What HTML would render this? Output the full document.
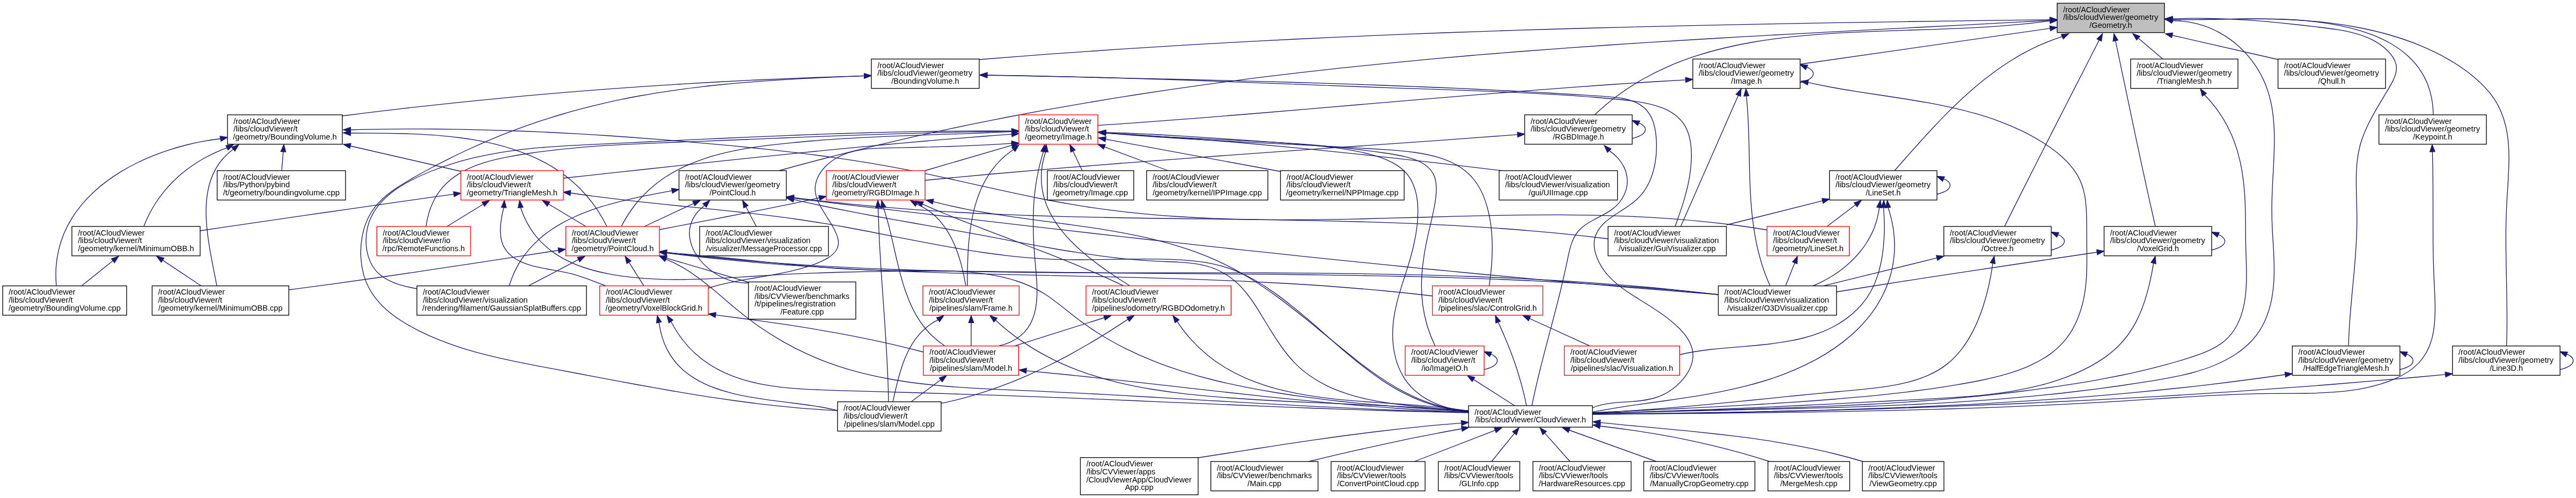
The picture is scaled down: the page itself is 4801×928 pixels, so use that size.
<!DOCTYPE html><html><head><meta charset="utf-8"><title>Geometry.h include graph</title>
<style>html,body{margin:0;padding:0;background:#fff}svg{display:block;will-change:transform}text{font-family:"Liberation Sans",sans-serif;font-size:13.8px;fill:#000}</style></head><body>
<svg width="4801" height="928" viewBox="0 0 4801 928">
<rect width="4801" height="928" fill="#fff"/>
<g fill="none" stroke="#191970" stroke-width="1.33">
<path d="M410.9,258.5C400.7,259.7 390.3,261.3 379.8,263.2C369.2,265.1 358.6,267.4 348,270C337.4,272.7 326.8,275.7 316.2,279.1C305.6,282.5 295.2,286.2 284.8,290.4C274.5,294.6 264.3,299.1 254.4,304C244.5,308.9 234.8,314.2 225.4,319.9C216,325.6 207,331.6 198.3,338.1C189.7,344.6 181.5,351.4 173.7,358.7C166,365.9 158.7,373.6 152,381.6C145.3,389.7 139.2,398.1 133.8,406.9C128.3,415.8 123.5,425 119.4,434.7C115.4,444.3 112,454.4 109.5,464.9C107,475.4 105.3,486.2 104.5,497.5C103.8,508.8 103.9,520.6 105,532.7"/>
<path d="M423.1,275.4C415.3,278.2 407.7,281.3 400.2,284.8C392.8,288.2 385.5,292 378.4,296C371.3,300.1 364.4,304.4 357.7,309C351.1,313.7 344.6,318.6 338.4,323.8C332.2,329 326.3,334.5 320.6,340.3C315,346 309.6,352.1 304.5,358.4C299.5,364.7 294.7,371.2 290.3,378C285.8,384.9 281.8,391.9 278,399.3C274.3,406.6 271,414.2 268,422"/>
<path d="M434.8,278C427.5,283.3 421.3,289.1 415.8,295.3C410.3,301.4 405.7,308 401.9,314.9C398,321.8 394.9,329 392.4,336.5C389.9,344 388,351.8 386.7,359.7C385.4,367.7 384.6,375.8 384.3,384.1C383.9,392.4 384,400.8 384.5,409.3C384.9,417.8 385.7,426.3 386.7,434.8C387.8,443.4 389,451.9 390.4,460.4C391.8,468.8 393.3,477.2 394.9,485.4C396.5,493.7 398.1,501.8 399.6,509.7C401.2,517.6 402.7,525.3 404,532.7"/>
<path d="M527.9,282.8L525,318"/>
<path d="M210.6,485.8L152,532.7"/>
<path d="M303.1,484.9L375,532.7"/>
<path d="M845.8,361.9C819.5,365.5 793.3,369.2 767,372.9C740.7,376.6 714.4,380.4 688.2,384.1C661.9,387.9 635.6,391.7 609.3,395.5C583.1,399.3 556.8,403.1 530.6,406.9C504.3,410.7 478,414.6 451.8,418.4C425.5,422.3 399.3,426.1 373,430"/>
<path d="M1040.8,466.5C1013,470.7 985.1,475 957.2,479.3C929.3,483.5 901.4,487.8 873.5,492.1C845.6,496.3 817.7,500.5 789.8,504.7C761.9,508.9 734,513 706,517C678.1,521.1 650.2,525 622.2,528.9C594.3,532.7 566.3,536.4 538.3,540"/>
<path d="M653,272L862,320"/>
<path d="M1610.7,141.4C1587.5,142.1 1564.3,142.8 1541,143.6C1517.8,144.5 1494.6,145.3 1471.4,146.3C1448.1,147.3 1424.9,148.3 1401.7,149.4C1378.5,150.6 1355.3,151.8 1332.1,153C1308.9,154.3 1285.7,155.7 1262.5,157.1C1239.3,158.5 1216.1,160 1193,161.6C1169.8,163.2 1146.6,164.9 1123.4,166.7C1100.3,168.4 1077.1,170.3 1053.9,172.2C1030.8,174.1 1007.6,176.1 984.5,178.2C961.3,180.3 938.2,182.5 915.1,184.8C892,187 868.8,189.4 845.7,191.8C822.6,194.2 799.5,196.7 776.4,199.3C753.3,201.9 730.3,204.6 707.2,207.4C684.1,210.2 661.1,213 638,216"/>
<path d="M900.7,380.5L833,422"/>
<path d="M1022.4,380.3L1092,422"/>
<path d="M653.3,248C663.9,248 674.7,248 685.6,248.1C696.6,248.1 707.7,248.2 718.9,248.3C730.1,248.5 741.4,248.7 752.8,249C764.2,249.4 775.7,249.8 787.2,250.4C798.7,251.1 810.2,251.8 821.6,252.8C833.1,253.8 844.6,255 855.9,256.5C867.3,258 878.6,259.7 889.8,261.7C901,263.7 912.1,266 923,268.7C934,271.4 944.7,274.4 955.3,277.8C965.8,281.2 976.2,285 986.3,289.2C996.4,293.4 1006.2,298.1 1015.8,303.2C1025.3,308.4 1034.6,314 1043.5,320.1C1052.4,326.3 1060.9,332.9 1069.1,340.2C1077.3,347.4 1085.1,355.2 1092.4,363.7C1099.8,372.1 1106.7,381.1 1113.2,390.9C1119.6,400.6 1125.6,410.9 1131,422"/>
<path d="M1292.9,379.1L1201,422"/>
<path d="M1885.7,245.4C1872.1,246.1 1858.5,246.7 1844.9,247.2C1831.3,247.8 1817.7,248.3 1804,248.8C1790.3,249.3 1776.7,249.8 1763,250.2C1749.2,250.7 1735.5,251.2 1721.8,251.6C1708,252.1 1694.3,252.6 1680.5,253.1C1666.7,253.7 1652.9,254.2 1639.1,254.9C1625.3,255.5 1611.5,256.2 1597.6,256.9C1583.8,257.7 1569.9,258.5 1556.1,259.4C1542.2,260.3 1528.3,261.4 1514.5,262.5C1500.6,263.6 1486.7,264.9 1472.8,266.3C1458.9,267.6 1445,269.2 1431.1,270.9C1417.3,272.6 1403.5,274.6 1389.8,276.9C1376.2,279.3 1362.7,282 1349.5,285.2C1336.2,288.3 1323.3,292 1310.6,296.3C1298,300.6 1285.7,305.5 1273.8,311.1C1261.9,316.7 1250.5,323.1 1239.6,330.3C1228.7,337.5 1218.3,345.6 1208.5,354.7C1198.7,363.8 1189.6,373.8 1181.1,385C1172.7,396.2 1164.9,408.5 1158,422"/>
<path d="M1527,368.7C1510.5,372.3 1494,375.8 1477.5,379.3C1460.9,382.7 1444.4,386.1 1427.8,389.4C1411.3,392.7 1394.7,396 1378.2,399.2C1361.6,402.4 1345,405.6 1328.4,408.8C1311.9,412 1295.3,415.2 1278.7,418.4C1262.1,421.6 1245.6,424.8 1229,428"/>
<path d="M1252.4,355.3C1244.2,356.8 1235.7,358.4 1227.2,360.1C1218.7,361.7 1210,363.4 1201.3,365.2C1192.6,366.9 1183.8,368.8 1175,370.8C1166.2,372.8 1157.4,375 1148.7,377.3C1139.9,379.6 1131.2,382 1122.5,384.7C1113.9,387.4 1105.3,390.2 1096.9,393.4C1088.5,396.5 1080.2,399.8 1072.2,403.5C1064.1,407.1 1056.2,411 1048.6,415.2C1041,419.4 1033.6,424 1026.5,428.8C1019.4,433.7 1012.6,438.9 1006.2,444.5C999.7,450.2 993.6,456.2 987.9,462.6C982.2,469 977,475.8 972.1,483.1C967.3,490.4 962.9,498.2 959,506.4C955.2,514.7 951.8,523.4 949,532.7"/>
<path d="M1078.2,483.7L985,532.7"/>
<path d="M1885.7,244.2C1871.7,244.1 1857.7,244 1843.7,244C1829.7,244 1815.7,244.1 1801.8,244.1C1787.8,244.2 1773.8,244.3 1759.8,244.5C1745.9,244.6 1731.9,244.8 1718,245.1C1704,245.3 1690,245.6 1676.1,245.9C1662.1,246.2 1648.2,246.5 1634.2,246.9C1620.3,247.3 1606.3,247.7 1592.4,248.1C1578.4,248.5 1564.5,249 1550.5,249.4C1536.6,249.9 1522.7,250.4 1508.7,250.9C1494.8,251.5 1480.8,252 1466.9,252.6C1452.9,253.1 1439,253.7 1425.1,254.3C1411.1,254.9 1397.2,255.5 1383.2,256.1C1369.3,256.7 1355.3,257.3 1341.4,258C1327.4,258.6 1313.5,259.3 1299.5,259.9C1285.6,260.6 1271.6,261.2 1257.7,261.9C1243.7,262.6 1229.7,263.2 1215.8,263.9C1201.8,264.5 1187.8,265.2 1173.9,265.9C1159.9,266.5 1145.9,267.2 1131.9,267.8C1117.9,268.5 1103.9,269.1 1090,269.8C1076,270.5 1062,271.2 1048,272.1C1034.1,273 1020.1,274 1006.2,275.2C992.3,276.5 978.5,277.9 964.7,279.6C950.9,281.4 937.1,283.4 923.4,285.8C909.7,288.2 896.1,291 882.5,294.2C869,297.4 855.5,301.1 842.2,305.3C828.8,309.5 815.5,314.2 802.4,319.5C789.2,324.8 776.1,330.8 763.5,337.5C751,344.1 739.1,351.6 728.5,360.1C717.9,368.6 708.5,378 701,388.7C693.5,399.3 687.9,411.1 684.9,424.4C681.8,437.6 681.3,452.3 683.7,466.4C686.1,480.4 691.5,493.7 700.3,504.1C709.1,514.5 721.4,521.8 734.9,527.1C748.5,532.4 763.3,535.6 777,538"/>
<path d="M1885.7,244.9C1870.7,245 1855.7,245.2 1840.7,245.4C1825.7,245.6 1810.7,245.9 1795.8,246.1C1780.9,246.4 1765.9,246.8 1751,247.1C1736.1,247.5 1721.3,247.9 1706.4,248.3C1691.5,248.7 1676.7,249.1 1661.8,249.6C1647,250.1 1632.2,250.6 1617.3,251.1C1602.5,251.6 1587.7,252.1 1572.9,252.7C1558.1,253.2 1543.3,253.8 1528.4,254.3C1513.6,254.9 1498.8,255.5 1484,256.1C1469.2,256.7 1454.3,257.3 1439.5,257.9C1424.7,258.5 1409.8,259.1 1395,259.7C1380.1,260.3 1365.2,260.9 1350.3,261.5C1335.4,262.1 1320.5,262.7 1305.6,263.3C1290.7,263.8 1275.7,264.4 1260.7,265C1245.8,265.6 1230.8,266.1 1215.8,266.8C1200.8,267.4 1185.8,268.1 1170.8,268.8C1155.7,269.6 1140.7,270.5 1125.7,271.4C1110.7,272.4 1095.7,273.5 1080.8,274.8C1065.8,276.1 1050.8,277.6 1035.9,279.3C1021,281 1006.1,282.8 991.2,285C976.4,287.1 961.5,289.5 946.8,292.3C932.2,295.1 917.7,298.4 903.9,302.6C890.2,306.8 877,311.9 864.9,318.3C852.8,324.7 841.7,332.4 832,341.8C822.3,351.2 814,362.3 807.6,375.5C801.1,388.8 796.5,404.1 794,422"/>
<path d="M1172.1,488.7L1200,532.7"/>
<path d="M939,386.8C937.1,393.7 935.5,400.9 934.4,408.1C933.2,415.2 932.5,422.4 932.5,429.3C932.5,436.1 933.2,442.7 934.8,448.8C936.4,454.9 938.9,460.4 942.3,465.3C945.7,470.2 949.9,474.5 954.8,478.3C959.6,482 965.1,485.2 971,487.9C976.9,490.5 983.2,492.7 989.8,494.6C996.4,496.5 1003.3,498 1010.3,499.4C1017.3,500.8 1024.4,502.1 1031.6,503.3C1038.7,504.6 1045.8,505.9 1052.7,507.3C1059.6,508.8 1066.4,510.4 1072.8,512.3C1079.3,514.3 1085.6,516.4 1091.8,518.7C1098,520.9 1104.2,523.3 1110.4,525.7C1116.7,528.1 1123,530.4 1129.5,532.7"/>
<path d="M1313.3,382.8C1308.1,386.8 1303.7,390.9 1300,395.3C1296.3,399.6 1293.4,404.1 1291.1,408.6C1288.8,413.2 1287.2,417.8 1286.2,422.5C1285.2,427.2 1284.8,432 1285,436.7C1285.2,441.5 1285.9,446.2 1287.1,450.9C1288.3,455.5 1290,460.2 1292.1,464.7C1294.3,469.2 1296.8,473.6 1299.8,477.8C1302.7,482.1 1306,486.2 1309.6,490.1C1313.2,493.9 1317.1,497.6 1321.3,501C1325.4,504.5 1329.9,507.6 1334.5,510.5C1339.1,513.4 1343.9,515.9 1348.8,518.1C1353.7,520.3 1358.8,522.2 1363.9,523.6C1369,525.1 1374.2,526.1 1379.4,526.7C1384.6,527.3 1389.8,527.4 1395,527"/>
<path d="M1241.8,480.8L1395,526"/>
<path d="M1390.2,385.3L1409.5,422"/>
<path d="M1885.7,250.1C1868.3,251.3 1850.8,252.6 1833.4,254C1815.9,255.3 1798.5,256.7 1781.1,258.1C1763.6,259.6 1746.2,261 1728.8,262.5C1711.3,264 1693.9,265.6 1676.5,267.1C1659.1,268.7 1641.6,270.3 1624.2,271.9C1606.8,273.6 1589.4,275.2 1572,276.9C1554.6,278.6 1537.1,280.3 1519.7,282C1502.3,283.8 1484.9,285.5 1467.5,287.3C1450.1,289.1 1432.7,290.9 1415.3,292.7C1397.9,294.5 1380.5,296.3 1363.1,298.2C1345.7,300 1328.3,301.9 1310.9,303.7C1293.5,305.6 1276.1,307.5 1258.7,309.3C1241.3,311.2 1223.9,313.1 1206.5,315C1189.2,316.9 1171.8,318.8 1154.4,320.7C1137,322.6 1119.6,324.5 1102.2,326.3C1084.8,328.2 1067.4,330.1 1050,332"/>
<path d="M1886.2,270.7L1724,318"/>
<path d="M1610.7,141.4C1598.2,141.9 1585.6,142.4 1573.1,142.9C1560.5,143.4 1547.9,144 1535.3,144.6C1522.7,145.1 1510.1,145.8 1497.5,146.4C1484.9,147.1 1472.3,147.8 1459.6,148.6C1447,149.4 1434.4,150.2 1421.7,151.1C1409.1,152 1396.5,153 1383.8,154.1C1371.2,155.1 1358.6,156.3 1346,157.5C1333.4,158.8 1320.8,160.1 1308.2,161.6C1295.6,163.1 1283.1,164.6 1270.5,166.3C1258,168 1245.5,169.8 1233,171.8C1220.5,173.7 1208.1,175.8 1195.6,178C1183.2,180.3 1170.8,182.6 1158.5,185.2C1146.2,187.7 1133.9,190.4 1121.6,193.3C1109.3,196.1 1097.1,199.2 1085,202.4C1072.8,205.6 1060.7,208.9 1048.6,212.5C1036.6,216 1024.5,219.8 1012.6,223.7C1000.6,227.6 988.7,231.7 976.8,235.9C965,240.2 953.2,244.6 941.4,249.2C929.7,253.8 918,258.6 906.4,263.6C894.7,268.6 883.2,273.7 871.6,279C860.1,284.4 848.7,289.9 837.3,295.6C825.9,301.2 814.6,307.1 803.4,313C792.2,319 781.1,325.2 770.1,331.4C759.1,337.7 748.1,344.1 737.8,351.1C727.5,358.1 717.8,365.6 709.3,374.2C700.7,382.7 693.3,392.3 687.6,403.3C681.8,414.3 677.7,426.6 675.2,439.6C672.7,452.5 671.8,466 672.5,479.2C673.2,492.4 675.6,505.4 679.5,517.4C683.5,529.4 689,540.3 695.9,550.1C702.8,560 711,568.8 720,576.9C729.1,584.9 739.1,592.2 749.5,598.8C760,605.5 770.9,611.5 782,617.1C793.2,622.6 804.5,627.7 816.1,632.4C827.6,637.1 839.4,641.4 851.3,645.3C863.2,649.3 875.3,652.9 887.4,656.3C899.6,659.6 911.9,662.7 924.3,665.6C936.7,668.5 949.2,671.2 961.7,673.8C974.2,676.4 986.7,678.9 999.3,681.3C1011.8,683.7 1024.4,686 1036.9,688.4C1049.4,690.7 1061.9,693.1 1074.4,695.5C1086.9,697.9 1099.3,700.2 1111.7,702.6C1124.2,705 1136.6,707.3 1149,709.6C1161.4,712 1173.8,714.3 1186.1,716.5C1198.5,718.8 1210.9,721 1223.3,723.2C1235.6,725.4 1248,727.6 1260.4,729.7C1272.7,731.8 1285.1,733.9 1297.5,735.8C1309.9,737.8 1322.3,739.8 1334.7,741.6C1347.1,743.5 1359.5,745.3 1372,747C1384.4,748.7 1396.9,750.3 1409.4,751.8C1421.9,753.3 1434.4,754.8 1447,756.1C1459.5,757.4 1472.1,758.6 1484.7,759.8C1497.4,760.9 1510,761.9 1522.7,762.7C1535.4,763.6 1548.2,764.4 1561,765"/>
<path d="M653.3,242C674.9,241.4 696.5,240.9 718,240.7C739.6,240.4 761.2,240.3 782.8,240.3C804.4,240.4 825.9,240.6 847.5,240.9C869.1,241.2 890.7,241.7 912.3,242.3C933.8,242.9 955.4,243.7 977,244.5C998.6,245.4 1020.1,246.4 1041.7,247.5C1063.2,248.6 1084.8,249.8 1106.3,251.2C1127.9,252.5 1149.4,253.9 1171,255.5C1192.5,257 1214,258.6 1235.6,260.4C1257.1,262.1 1278.6,263.9 1300.1,265.8C1321.6,267.7 1343.1,269.7 1364.6,271.7C1386,273.8 1407.5,275.9 1428.9,278.2C1450.4,280.5 1471.8,283 1493.2,285.6C1514.6,288.2 1536,291 1557.3,294.1C1578.7,297.1 1600,300.4 1621.3,303.9C1642.6,307.5 1663.8,311.3 1685.1,315.4C1706.3,319.6 1727.4,324 1748.6,328.6C1769.8,333.2 1790.9,337.9 1812,342.6C1833.1,347.4 1854.3,352.1 1875.4,356.7C1896.5,361.3 1917.6,365.8 1938.8,370C1960,374.3 1981.1,378.2 2002.4,381.7C2023.6,385.3 2044.8,388.4 2066.1,391.1C2087.4,393.9 2108.7,396.3 2130.1,398.3C2151.5,400.4 2172.8,402.1 2194.3,403.5C2215.7,404.9 2237.1,406.1 2258.6,406.9C2280.1,407.8 2301.5,408.5 2323.1,408.9C2344.6,409.3 2366.1,409.5 2387.7,409.6C2409.2,409.6 2430.8,409.5 2452.4,409.3C2473.9,409.1 2495.5,408.7 2517.1,408.3C2538.7,407.8 2560.4,407.3 2582,406.7C2603.6,406.2 2625.2,405.6 2646.9,405C2668.5,404.4 2690.1,403.8 2711.8,403.2C2733.4,402.6 2755,402.1 2776.7,401.7C2798.3,401.2 2819.9,400.9 2841.5,400.7C2863.2,400.4 2884.8,400.3 2906.4,400.4C2928,400.5 2949.6,400.7 2971.1,401.1C2992.7,401.6 3014.3,402.2 3035.8,403.1C3057.4,404 3078.9,405.1 3100.4,406.6C3121.9,408 3143.4,409.8 3164.9,411.8C3186.3,413.9 3207.8,416.3 3229.2,419C3250.6,421.8 3272,424.9 3293.3,428.5"/>
<path d="M1885.7,267.2C1877,267.8 1868.4,268.3 1859.8,268.8C1851.3,269.3 1842.8,269.7 1834.3,270.1C1825.9,270.5 1817.5,270.9 1809.1,271.3C1800.7,271.6 1792.4,272 1784,272.3C1775.7,272.6 1767.3,272.9 1759,273.2C1750.6,273.4 1742.3,273.7 1733.9,273.9C1725.5,274.1 1717.1,274.3 1708.6,274.5C1700.1,274.7 1691.6,274.9 1683,275.1C1674.5,275.3 1665.8,275.4 1657.1,275.6C1648.4,275.8 1639.6,276 1630.9,276.4C1622.2,276.9 1613.5,277.7 1605,279.1C1596.6,280.4 1588.2,282.3 1580.2,284.9C1572.2,287.6 1564.5,291.1 1557.2,295.5C1550,299.9 1543.2,305.2 1537.5,311.2C1531.8,317.2 1527.1,323.8 1523.9,331C1520.7,338.1 1519,345.7 1519.2,353.6C1519.4,361.4 1521.9,369.6 1525.7,377.8C1529.5,386 1534.7,394.3 1539.9,402.5C1545.1,410.7 1550.3,418.7 1554.4,426.5C1558.5,434.2 1561.5,441.6 1562.3,448.4C1563.2,455.2 1561.8,461.2 1558.4,466.5C1555,471.9 1549.6,476.5 1543.1,480.6C1536.6,484.7 1529,488.2 1520.8,491.3C1512.7,494.4 1504.2,497.1 1495.7,499.6C1487.3,502 1478.8,504.1 1470.3,506.1C1461.8,508 1453.2,509.7 1444.7,511.3C1436.2,512.9 1427.7,514.4 1419.2,515.8C1410.7,517.3 1402.3,518.7 1393.8,520.2C1385.4,521.6 1377.1,523.1 1368.8,524.8C1360.5,526.4 1352.3,528.2 1344.1,530.2C1336,532.2 1327.9,534.5 1320,537"/>
<path d="M1888.9,278.7C1883.7,282.1 1878.9,285.7 1874.3,289.5C1869.8,293.4 1865.5,297.4 1861.5,301.6C1857.5,305.8 1853.8,310.2 1850.3,314.8C1846.8,319.3 1843.6,324 1840.6,328.9C1837.6,333.7 1834.9,338.7 1832.4,343.8C1829.8,349 1827.5,354.2 1825.4,359.6C1823.3,364.9 1821.4,370.4 1819.6,375.9C1817.9,381.4 1816.3,387.1 1814.9,392.8C1813.5,398.5 1812.3,404.2 1811.2,410C1810.1,415.8 1809.1,421.7 1808.3,427.6C1807.5,433.5 1806.8,439.4 1806.2,445.3C1805.6,451.2 1805.1,457.2 1804.7,463.1C1804.3,469 1804,475 1803.8,480.9C1803.5,486.8 1803.4,492.6 1803.2,498.5C1803.1,504.3 1803.1,510.1 1803,515.8C1803,521.5 1803,527.1 1803,532.7"/>
<path d="M1479.3,368.1C1503.2,371.2 1527.2,374.1 1551.3,376.7C1575.3,379.4 1599.3,381.8 1623.3,384C1647.4,386.1 1671.4,388.1 1695.5,389.9C1719.6,391.7 1743.6,393.2 1767.7,394.6C1791.8,396.1 1815.9,397.3 1840,398.4C1864.1,399.5 1888.2,400.5 1912.3,401.3C1936.4,402.2 1960.5,402.9 1984.7,403.6C2008.8,404.2 2032.9,404.7 2057.1,405.2C2081.2,405.7 2105.3,406.1 2129.5,406.5C2153.6,406.9 2177.8,407.2 2201.9,407.5C2226.1,407.8 2250.2,408.1 2274.4,408.4C2298.5,408.7 2322.6,409.1 2346.8,409.4C2370.9,409.7 2395.1,410.1 2419.2,410.6C2443.3,411 2467.5,411.5 2491.6,412.1C2515.7,412.7 2539.8,413.3 2564,414.1C2588.1,414.9 2612.2,415.7 2636.3,416.7C2660.4,417.8 2684.5,418.9 2708.6,420.2C2732.6,421.5 2756.7,423 2780.8,424.6C2804.8,426.2 2828.9,428.1 2852.9,430.1C2877,432.1 2901,434.4 2925,436.9C2949,439.3 2973,442 2997,445"/>
<path d="M1479.2,369.6C1497.7,371.8 1516.2,374 1534.7,376.2C1553.2,378.4 1571.7,380.6 1590.2,382.8C1608.7,385 1627.2,387.2 1645.7,389.4C1664.2,391.6 1682.7,393.7 1701.2,395.9C1719.7,398.1 1738.2,400.3 1756.7,402.5C1775.2,404.6 1793.7,406.8 1812.2,408.9C1830.7,411.1 1849.2,413.3 1867.7,415.4C1886.2,417.6 1904.7,419.7 1923.2,421.8C1941.7,424 1960.2,426.1 1978.7,428.2C1997.2,430.3 2015.7,432.4 2034.3,434.5C2052.8,436.6 2071.3,438.7 2089.8,440.8C2108.3,442.9 2126.8,445 2145.4,447C2163.9,449.1 2182.4,451.1 2200.9,453.2C2219.4,455.2 2238,457.2 2256.5,459.3C2275,461.3 2293.5,463.3 2312,465.3C2330.6,467.3 2349.1,469.3 2367.6,471.2C2386.2,473.2 2404.7,475.2 2423.2,477.1C2441.8,479.1 2460.3,481 2478.8,482.9C2497.4,484.8 2515.9,486.7 2534.4,488.6C2553,490.5 2571.5,492.4 2590,494.2C2608.6,496.1 2627.1,497.9 2645.7,499.8C2664.2,501.6 2682.8,503.4 2701.3,505.2C2719.9,507 2738.4,508.8 2757,510.5C2775.5,512.3 2794.1,514 2812.6,515.7C2831.2,517.5 2849.7,519.2 2868.3,520.9C2886.8,522.5 2905.4,524.2 2924,525.9C2942.5,527.5 2961.1,529.1 2979.6,530.7C2998.2,532.3 3016.8,533.9 3035.3,535.5C3053.9,537.1 3072.5,538.6 3091,540.1C3109.6,541.7 3128.2,543.2 3146.8,544.6C3165.3,546.1 3183.9,547.6 3202.5,549"/>
<path d="M1479,371.9C1491.4,374.8 1503.9,377.5 1516.4,380.2C1528.9,382.9 1541.4,385.5 1553.9,388C1566.4,390.5 1578.9,393 1591.5,395.4C1604,397.8 1616.6,400.2 1629.1,402.5C1641.7,404.8 1654.3,407.1 1666.8,409.3C1679.4,411.6 1692,413.8 1704.6,416C1717.2,418.2 1729.7,420.4 1742.3,422.6C1754.9,424.9 1767.5,427.1 1780,429.3C1792.6,431.6 1805.1,433.8 1817.7,436.1C1830.2,438.4 1842.8,440.8 1855.3,443.2C1867.8,445.5 1880.3,447.9 1892.9,450.3C1905.4,452.6 1917.9,455 1930.5,457.3C1943,459.6 1955.5,461.8 1968.1,464C1980.7,466.2 1993.3,468.2 2005.9,470.2C2018.5,472.2 2031.1,474.1 2043.8,475.8C2056.5,477.6 2069.2,479.2 2081.9,480.6C2094.7,482 2107.5,483.3 2120.3,484.3C2133.2,485.4 2146.1,486.3 2159,486.9C2172,487.5 2185,487.8 2197.8,488.6C2210.6,489.3 2223.2,490.4 2235.1,492.6C2247.1,494.8 2258.5,498.2 2269.1,503C2279.7,507.9 2289.6,514 2298.8,521.5C2308,528.9 2316.4,537.7 2324.1,547.5C2331.9,557.3 2339.1,568.1 2346,579.3C2353,590.5 2359.8,602 2366.8,613.4C2373.8,624.7 2381,635.9 2388.6,646.5C2396.1,657 2404.2,667.1 2412.9,676.1C2421.7,685.2 2431.2,693.2 2441.3,700.3C2451.5,707.4 2462.2,713.6 2473.5,719.1C2484.7,724.5 2496.5,729.1 2508.6,733.1C2520.7,737.2 2533.1,740.5 2545.7,743.4C2558.3,746.2 2571.2,748.6 2584.1,750.5C2596.9,752.5 2609.9,754.1 2622.9,755.5C2635.8,756.9 2648.8,758.1 2661.6,759.2C2674.5,760.4 2687.2,761.5 2699.8,762.7C2712.4,764 2724.8,765.3 2737,767"/>
<path d="M1063.2,359.5C1077.4,361.7 1091.7,363.7 1105.9,365.6C1120.2,367.4 1134.5,369.2 1148.8,370.9C1163.1,372.6 1177.4,374.3 1191.7,375.8C1206,377.4 1220.3,378.9 1234.6,380.4C1248.9,381.9 1263.2,383.3 1277.6,384.8C1291.9,386.2 1306.2,387.7 1320.5,389.1C1334.8,390.6 1349.2,392.1 1363.5,393.6C1377.8,395.2 1392.1,396.8 1406.4,398.4C1420.7,400.1 1434.9,401.8 1449.2,403.7C1463.5,405.5 1477.7,407.4 1492,409.5C1506.2,411.6 1520.4,413.8 1534.6,416.1C1548.8,418.4 1563,420.9 1577.2,423.5C1591.3,426.1 1605.5,428.8 1619.7,431.5C1633.8,434.2 1647.9,437 1662.1,439.8C1676.2,442.6 1690.3,445.4 1704.5,448.1C1718.6,450.9 1732.8,453.6 1746.9,456.2C1761.1,458.8 1775.2,461.3 1789.4,463.7C1803.6,466.1 1817.8,468.4 1832,470.5C1846.2,472.5 1860.5,474.4 1874.7,476.1C1889,477.8 1903.3,479.2 1917.6,480.4C1931.9,481.6 1946.3,482.5 1960.7,483.1C1975.1,483.7 1989.5,483.9 2004,484C2018.5,484.1 2032.9,483.9 2047.4,483.7C2061.9,483.5 2076.3,483.3 2090.8,483C2105.2,482.8 2119.7,482.6 2134,482.6C2148.4,482.6 2162.7,482.7 2177,483.2C2191.3,483.6 2205.5,484.4 2219.5,485.7C2233.5,487 2247.4,489 2261,491.9C2274.6,494.8 2287.8,498.7 2300.8,503.8C2313.7,508.9 2326.3,515.1 2338.6,522C2350.8,529 2362.8,536.8 2374.5,545.1C2386.3,553.3 2397.7,562.1 2409,571.2C2420.3,580.2 2431.3,589.6 2442.4,599.1C2453.4,608.6 2464.3,618.3 2475.2,627.9C2486.1,637.5 2497.1,647.1 2508.1,656.5C2519.1,665.8 2530.2,675 2541.6,683.8C2552.9,692.6 2564.4,701 2576.2,708.9C2588,716.7 2600,724.1 2612.5,730.7C2624.9,737.3 2637.7,743.1 2651,748.1C2664.3,753.1 2678,757.2 2692.3,760.3C2706.6,763.3 2721.5,765.3 2737,766"/>
<path d="M970.2,386.7C976.9,407.1 986.3,424.3 997.8,438.9C1009.4,453.4 1023.1,465.3 1038.4,475.1C1053.7,484.9 1070.5,492.5 1088.3,498.5C1106.1,504.5 1124.8,508.8 1143.9,512.1C1163,515.3 1182.4,517.5 1201.8,518.9C1221.3,520.3 1240.9,520.9 1260.6,521C1280.3,521 1300.2,520.5 1320,519.7C1339.9,518.8 1359.8,517.7 1379.8,516.4C1399.7,515.2 1419.6,513.9 1439.5,512.7C1459.4,511.5 1479.2,510.5 1499,509.7C1518.8,508.8 1538.5,508.1 1558.2,507.5C1577.9,507 1597.6,506.5 1617.2,506.2C1636.9,505.8 1656.5,505.6 1676.1,505.4C1695.6,505.3 1715.2,505.2 1734.7,505.2C1754.3,505.2 1773.8,505.3 1793.3,505.4C1812.8,505.6 1832.3,505.7 1851.8,505.9C1871.3,506.2 1890.8,506.4 1910.3,506.7C1929.8,506.9 1949.3,507.2 1968.8,507.5C1988.3,507.7 2007.8,508 2027.3,508.2C2046.8,508.5 2066.4,508.7 2085.9,508.9C2105.5,509.1 2125,509.2 2144.6,509.4C2164.2,509.6 2183.7,509.7 2203.3,509.9C2222.9,510 2242.5,510.2 2262.1,510.4C2281.7,510.5 2301.4,510.7 2321,510.8C2340.6,511 2360.2,511.2 2379.8,511.4C2399.5,511.6 2419.1,511.8 2438.7,512C2458.4,512.2 2478,512.5 2497.7,512.8C2517.3,513.1 2536.9,513.4 2556.6,513.8C2576.2,514.1 2595.9,514.5 2615.5,515C2635.1,515.4 2654.8,515.9 2674.4,516.5C2694,517 2713.7,517.6 2733.3,518.3C2752.9,518.9 2772.5,519.6 2792.2,520.4C2811.8,521.2 2831.4,522 2851,523C2870.6,523.9 2890.2,524.9 2909.7,526C2929.3,527 2948.9,528.2 2968.5,529.4C2988,530.7 3007.6,532 3027.1,533.4C3046.6,534.9 3066.1,536.4 3085.7,538C3105.2,539.6 3124.6,541.3 3144.1,543.2C3163.6,545 3183.1,546.9 3202.5,549"/>
<path d="M1242.2,470.2C1273.3,474 1304.3,477.5 1335.3,480.5C1366.4,483.6 1397.4,486.3 1428.5,488.8C1459.5,491.2 1490.6,493.3 1521.7,495.2C1552.8,497.1 1583.9,498.7 1615,500.1C1646.1,501.4 1677.2,502.6 1708.3,503.5C1739.4,504.5 1770.6,505.3 1801.7,505.9C1832.8,506.5 1864,506.9 1895.1,507.3C1926.3,507.6 1957.4,507.9 1988.6,508C2019.7,508.2 2050.9,508.3 2082,508.3C2113.2,508.3 2144.3,508.3 2175.5,508.3C2206.7,508.3 2237.8,508.3 2269,508.3C2300.2,508.4 2331.3,508.4 2362.5,508.5C2393.6,508.7 2424.8,508.8 2456,509.1C2487.1,509.4 2518.3,509.8 2549.4,510.3C2580.6,510.8 2611.7,511.4 2642.8,512.2C2674,512.9 2705.1,513.8 2736.2,515C2767.4,516.1 2798.5,517.3 2829.6,518.9C2860.7,520.4 2891.8,522.1 2922.9,524C2954,526 2985.1,528.2 3016.2,530.7C3047.3,533.1 3078.3,535.9 3109.4,538.9C3140.4,542 3171.5,545.3 3202.5,549"/>
<path d="M1242.2,471.3C1271.8,475.1 1301.5,478.6 1331.1,481.7C1360.8,484.8 1390.4,487.6 1420.1,490.1C1449.8,492.6 1479.5,494.7 1509.2,496.7C1539,498.6 1568.7,500.3 1598.4,501.8C1628.2,503.3 1657.9,504.6 1687.7,505.8C1717.5,506.9 1747.3,508 1777,508.9C1806.8,509.7 1836.6,510.5 1866.4,511.3C1896.2,512 1926,512.7 1955.8,513.4C1985.6,514 2015.4,514.7 2045.2,515.4C2075,516.1 2104.8,516.8 2134.6,517.6C2164.4,518.5 2194.1,519.4 2223.9,520.4C2253.7,521.4 2283.5,522.6 2313.2,523.9C2343,525.3 2372.7,526.8 2402.4,528.5C2432.2,530.3 2461.9,532.2 2491.6,534.5C2521.3,536.7 2551,539.2 2580.7,542C2610.3,544.8 2640,548 2669.6,551.5"/>
<path d="M1240.9,482.9C1257.7,489.6 1273.2,498.3 1288,508.2C1302.7,518.1 1316.8,529.2 1330.5,540.6C1344.3,552.1 1357.8,564 1371.7,575.5C1385.5,586.9 1399.7,597.9 1414.4,608.2C1429.1,618.4 1444.2,627.9 1459.7,636.8C1475.2,645.6 1491,653.6 1507.2,660.9C1523.3,668.2 1539.8,674.7 1556.5,680.4C1573.2,686.2 1590.2,691.1 1607.3,695.4C1624.5,699.7 1641.9,703.4 1659.4,706.5C1676.9,709.7 1694.6,712.3 1712.5,714.5C1730.3,716.7 1748.2,718.5 1766.2,720C1784.3,721.5 1802.4,722.7 1820.5,723.7C1838.7,724.7 1856.8,725.6 1875,726.4C1893.2,727.2 1911.4,727.9 1929.5,728.7C1947.6,729.5 1965.7,730.4 1983.8,731.3C2001.8,732.1 2019.9,733.1 2037.9,734C2055.9,735 2073.8,735.9 2091.8,736.9C2109.7,737.9 2127.6,739 2145.6,740C2163.5,741 2181.3,742.1 2199.2,743.1C2217.1,744.2 2235,745.2 2252.8,746.3C2270.7,747.3 2288.5,748.3 2306.4,749.4C2324.2,750.4 2342.1,751.4 2359.9,752.4C2377.8,753.4 2395.6,754.4 2413.5,755.4C2431.3,756.3 2449.2,757.3 2467.1,758.2C2485,759.1 2502.9,759.9 2520.8,760.7C2538.7,761.6 2556.6,762.3 2574.6,763.1C2592.5,763.8 2610.5,764.5 2628.5,765.1C2646.5,765.7 2664.6,766.2 2682.7,766.7C2700.7,767.2 2718.8,767.7 2737,768"/>
<path d="M1250.5,599C1263.1,623.3 1278.3,642.8 1295.5,658.6C1312.8,674.4 1332,686.5 1352.8,695.7C1373.6,705 1395.8,711.4 1419,715.9C1442.2,720.4 1466.4,723.1 1491,724.7C1515.6,726.4 1540.6,727.1 1565.6,727.8C1590.5,728.5 1615.3,729.2 1639.9,729.9C1664.6,730.6 1689.2,731.3 1713.7,732C1738.2,732.8 1762.6,733.5 1787,734.3C1811.4,735.1 1835.7,735.9 1860,736.7C1884.3,737.6 1908.6,738.4 1932.8,739.4C1957.1,740.3 1981.4,741.2 2005.7,742.2C2030,743.1 2054.4,744.1 2078.7,745.2C2103,746.2 2127.4,747.2 2151.7,748.3C2176.1,749.3 2200.5,750.4 2224.9,751.4C2249.2,752.5 2273.6,753.5 2298,754.5C2322.4,755.6 2346.8,756.6 2371.2,757.6C2395.6,758.6 2420,759.5 2444.4,760.5C2468.8,761.4 2493.2,762.3 2517.6,763.1C2542,763.9 2566.4,764.7 2590.8,765.5C2615.2,766.2 2639.5,766.8 2663.9,767.4C2688.3,768 2712.6,768.6 2737,769"/>
<path d="M1228.1,600.9C1229.5,610.9 1231.5,620.1 1234.2,628.6C1236.8,637.2 1240.1,645.1 1243.9,652.4C1247.8,659.7 1252.1,666.3 1257,672.5C1261.9,678.7 1267.3,684.3 1273.1,689.4C1278.9,694.5 1285.1,699.2 1291.7,703.4C1298.3,707.6 1305.2,711.4 1312.5,714.8C1319.7,718.2 1327.3,721.3 1335.1,724C1342.9,726.8 1351,729.2 1359.2,731.4C1367.4,733.6 1375.8,735.5 1384.4,737.3C1392.9,739 1401.5,740.5 1410.3,741.9C1419,743.3 1427.7,744.6 1436.5,745.8C1445.3,747 1454,748.1 1462.8,749.2C1471.5,750.3 1480.1,751.4 1488.7,752.5C1497.2,753.6 1505.7,754.7 1513.9,755.9C1522.2,757.2 1530.3,758.5 1538.2,760C1546,761.5 1553.7,763.1 1561,765"/>
<path d="M1333.7,586.9C1355.4,589.7 1377.1,592.5 1398.7,595.5C1420.4,598.4 1442.1,601.5 1463.7,604.7C1485.3,608 1506.9,611.4 1528.5,615.1C1550.1,618.7 1571.6,622.6 1593,626.8C1614.5,631 1635.9,635.5 1657.2,640.3C1678.6,645.2 1699.8,650.4 1721,656"/>
<path d="M1636.6,386.8C1637,400.2 1637.4,413.6 1638,427C1638.5,440.5 1639.2,453.9 1640,467.3C1640.7,480.7 1641.6,494.1 1642.4,507.5C1643.3,520.9 1644.2,534.3 1645.2,547.7C1646.1,561 1647,574.4 1648,587.8C1648.9,601.2 1649.8,614.6 1650.6,628C1651.5,641.4 1652.3,654.8 1653,668.2C1653.7,681.6 1654.3,695 1654.9,708.4C1655.4,721.9 1655.8,735.3 1656,748.7"/>
<path d="M1646.3,386.4C1649,394.4 1651.5,402.6 1653.8,411C1656.2,419.4 1658.3,428 1660.4,436.6C1662.4,445.2 1664.4,453.9 1666.4,462.7C1668.4,471.4 1670.4,480.2 1672.5,488.9C1674.6,497.7 1676.7,506.3 1679.1,514.9C1681.5,523.5 1684,532 1686.8,540.3C1689.7,548.7 1692.8,556.8 1696.2,564.7C1699.7,572.7 1703.5,580.4 1707.8,587.8C1712.1,595.2 1716.8,602.3 1722.1,609C1727.4,615.8 1733.2,622.2 1739.7,628.1C1746.1,634.1 1753.2,639.6 1761,644.7"/>
<path d="M1708.4,380.4C1715.1,383.1 1721.3,386.4 1727.1,390.2C1732.9,393.9 1738.2,398.2 1743.1,402.8C1748,407.4 1752.6,412.4 1756.7,417.8C1760.9,423.1 1764.7,428.8 1768.1,434.7C1771.6,440.6 1774.7,446.8 1777.5,453.1C1780.4,459.4 1782.9,465.9 1785.2,472.5C1787.5,479.1 1789.5,485.9 1791.4,492.6C1793.2,499.3 1794.8,506.1 1796.2,512.8C1797.6,519.5 1798.9,526.2 1800,532.7"/>
<path d="M1719.2,380.3C1730.4,385.3 1741.7,390.1 1753,394.9C1764.3,399.6 1775.6,404.2 1787,408.8C1798.4,413.3 1809.8,417.8 1821.3,422.2C1832.7,426.7 1844.2,431 1855.6,435.4C1867.1,439.8 1878.6,444.1 1890,448.4C1901.5,452.8 1913,457.1 1924.4,461.5C1935.9,465.9 1947.3,470.3 1958.8,474.7C1970.2,479.2 1981.6,483.7 1993,488.3C2004.3,492.9 2015.7,497.6 2026.9,502.4C2038.2,507.2 2049.5,512.1 2060.6,517.1C2071.8,522.2 2082.9,527.4 2094,532.7"/>
<path d="M1739,375.6C1749.2,378.3 1759.4,380.8 1769.8,383.2C1780.1,385.5 1790.5,387.7 1801,389.8C1811.4,391.8 1822,393.7 1832.6,395.5C1843.2,397.4 1853.8,399.1 1864.5,400.7C1875.2,402.3 1886,403.9 1896.7,405.4C1907.5,406.9 1918.3,408.4 1929.1,409.8C1939.9,411.3 1950.8,412.7 1961.6,414.1C1972.4,415.6 1983.3,417 1994.1,418.5C2004.9,420 2015.7,421.5 2026.5,423.1C2037.3,424.7 2048.1,426.3 2058.8,428.1C2069.5,429.8 2080.2,431.6 2090.8,433.6C2101.5,435.6 2112.1,437.6 2122.6,439.9C2133.1,442.1 2143.6,444.5 2153.9,447.1C2164.3,449.6 2174.6,452.4 2184.8,455.3C2195,458.3 2205.1,461.5 2215.2,464.9C2225.2,468.2 2235.1,471.9 2244.9,475.8C2254.6,479.7 2264.3,483.8 2273.8,488.3C2283.4,492.8 2292.8,497.5 2302,502.6C2311.3,507.6 2320.5,513 2329.5,518.5C2338.5,524.1 2347.4,529.9 2356.2,536C2365.1,542 2373.8,548.2 2382.5,554.6C2391.1,560.9 2399.7,567.5 2408.2,574.1C2416.8,580.7 2425.3,587.5 2433.7,594.3C2442.1,601.1 2450.6,608 2458.9,614.9C2467.3,621.7 2475.7,628.7 2484.1,635.6C2492.5,642.5 2500.8,649.3 2509.3,656.1C2517.7,662.9 2526.1,669.6 2534.6,676.2C2543.1,682.7 2551.7,689.1 2560.4,695.3C2569.1,701.4 2577.9,707.3 2586.9,713C2595.8,718.6 2604.9,723.9 2614.2,728.9C2623.5,733.9 2633,738.4 2642.7,742.6C2652.4,746.7 2662.3,750.4 2672.5,753.6C2682.7,756.8 2693.1,759.5 2703.8,761.6C2714.6,763.7 2725.6,765.2 2737,766"/>
<path d="M2828.3,250.9C2787.4,254 2746.5,257 2705.6,259.9C2664.7,262.9 2623.8,265.8 2582.8,268.6C2541.9,271.5 2501,274.4 2460.1,277.2C2419.1,280.1 2378.2,283 2337.3,285.9C2296.4,288.8 2255.4,291.8 2214.5,294.8C2173.6,297.8 2132.7,300.9 2091.8,304.1C2050.9,307.3 2010,310.5 1969.1,313.9C1928.3,317.3 1887.4,320.9 1846.5,324.5C1805.7,328.2 1764.8,332 1724,336"/>
<path d="M1944.6,282.6C1942.4,289.7 1940.4,296.7 1938.7,303.7C1936.9,310.7 1935.3,317.6 1934,324.5C1932.6,331.4 1931.4,338.3 1930.4,345.2C1929.4,352.1 1928.6,358.9 1927.9,365.7C1927.3,372.6 1926.7,379.4 1926.4,386.3C1926,393.1 1925.8,400 1925.7,406.8C1925.6,413.7 1925.6,420.6 1925.8,427.5C1925.9,434.4 1926.1,441.4 1926.5,448.3C1926.8,455.3 1927.2,462.4 1927.7,469.5C1928.2,476.5 1928.8,483.7 1929.5,490.9C1930.1,498.1 1930.8,505.4 1931.3,512.6C1931.9,519.9 1932.4,527.1 1932.6,534.2C1932.8,541.3 1932.8,548.4 1932.4,555.3C1932,562.2 1931.3,568.9 1930,575.4C1928.8,582 1927,588.2 1924.6,594.2C1922.2,600.2 1919.2,606 1915.4,611.3C1911.7,616.6 1907.2,621.5 1902,625.8C1896.7,630.2 1890.7,634 1883.9,637.2C1877.1,640.4 1869.5,642.9 1861,644.7"/>
<path d="M1948.8,282.7C1946,291.2 1944,299.4 1942.6,307.4C1941.3,315.5 1940.7,323.3 1940.7,330.9C1940.7,338.6 1941.3,346 1942.5,353.2C1943.7,360.5 1945.5,367.6 1947.7,374.4C1950,381.3 1952.8,388 1956,394.5C1959.2,401.1 1962.9,407.4 1967,413.6C1971,419.8 1975.5,425.8 1980.2,431.6C1985,437.5 1990.1,443.2 1995.4,448.7C2000.7,454.2 2006.3,459.6 2012.1,464.8C2017.9,470.1 2023.9,475.1 2030,480.1C2036.2,485 2042.4,489.8 2048.7,494.4C2055.1,499.1 2061.5,503.6 2067.9,508C2074.3,512.3 2080.7,516.6 2087.1,520.7C2093.5,524.8 2099.8,528.8 2106,532.7"/>
<path d="M1999.7,281.5L2017,318"/>
<path d="M2058.5,273.7L2177,318"/>
<path d="M2060.6,259.4L2386.5,319.5"/>
<path d="M2060.8,248C2101.9,250.2 2143,252.8 2184.1,255.8C2225.2,258.7 2266.3,262 2307.4,265.5C2348.4,269.1 2389.4,272.9 2430.4,276.9C2471.4,281 2512.4,285.2 2553.4,289.6C2594.4,294.1 2635.3,298.7 2676.2,303.4C2717.2,308.2 2758.1,313.1 2799,318"/>
<path d="M3141.7,148.8C3108.5,150.7 3075.2,152.7 3042,154.9C3008.8,157.1 2975.5,159.4 2942.3,161.8C2909.1,164.2 2875.9,166.7 2842.7,169.3C2809.5,171.9 2776.3,174.6 2743.1,177.3C2709.9,180.1 2676.7,182.8 2643.6,185.6C2610.4,188.5 2577.2,191.3 2544,194.1C2510.8,197 2477.6,199.8 2444.5,202.6C2411.3,205.5 2378.1,208.3 2344.9,211C2311.7,213.7 2278.5,216.4 2245.3,219.1C2212.1,221.7 2178.9,224.2 2145.7,226.7C2112.5,229.1 2079.2,231.5 2046,233.7"/>
<path d="M2060.8,246.8C2072.8,247.1 2084.8,247.6 2096.8,248C2108.8,248.5 2120.8,249 2132.8,249.6C2144.7,250.2 2156.7,250.8 2168.6,251.5C2180.6,252.2 2192.5,252.9 2204.4,253.6C2216.3,254.3 2228.2,255.1 2240.1,255.9C2252,256.6 2263.9,257.4 2275.8,258.2C2287.7,259.1 2299.6,259.9 2311.5,260.7C2323.4,261.6 2335.3,262.4 2347.2,263.2C2359.1,264.1 2371,264.9 2383,265.7C2394.9,266.6 2406.8,267.4 2418.8,268.3C2430.7,269.3 2442.7,270.3 2454.8,271.5C2466.8,272.7 2478.9,274.1 2491,275.7C2503.1,277.4 2515.3,279.4 2527.6,281.7C2539.8,284 2552,286.8 2563.6,290.3C2575.2,293.8 2586.1,298.1 2595.9,303.4C2605.6,308.7 2614.2,315.1 2621,322.8C2627.8,330.6 2632.8,339.8 2636.2,350C2639.7,360.2 2641.6,371.5 2642.3,383.3C2643,395.2 2642.5,407.6 2641.1,420.2C2639.7,432.7 2637.4,445.5 2634.5,458C2631.7,470.4 2628.2,482.6 2624.6,494.4C2621,506.3 2617.1,517.9 2613.5,529.4C2609.8,540.9 2606.4,552.3 2603.5,563.8C2600.6,575.3 2598.3,586.9 2596.9,598.6C2595.6,610.4 2595.2,622.4 2595.9,634.2C2596.6,646.1 2598.5,657.7 2601.5,668.9C2604.6,680.1 2609,690.8 2614.7,700.6C2620.4,710.5 2627.6,719.5 2636.3,727.3C2644.9,735.1 2654.9,741.9 2665.7,747.4C2676.5,752.9 2688.1,757.2 2700.2,760.2C2712.2,763.2 2724.7,764.8 2737,765"/>
<path d="M2060.8,247.3C2074.3,248.5 2087.7,249.6 2101.1,250.6C2114.5,251.5 2127.8,252.4 2141.1,253.2C2154.4,254.1 2167.6,254.8 2180.9,255.5C2194.1,256.2 2207.3,256.9 2220.5,257.5C2233.6,258.2 2246.8,258.8 2260,259.4C2273.1,260 2286.3,260.6 2299.4,261.2C2312.6,261.8 2325.7,262.5 2338.9,263.2C2352.1,263.9 2365.3,264.6 2378.5,265.4C2391.7,266.2 2404.9,267 2418.2,268C2431.5,268.9 2444.8,270 2458.2,271.1C2471.5,272.3 2484.9,273.5 2498.4,274.9C2511.9,276.3 2525.4,277.8 2539,279.5C2552.6,281.2 2566.2,283 2580,285C2593.7,287 2607.5,289.2 2620.3,292.4C2633,295.6 2644.6,299.7 2653.9,305.7C2663.2,311.7 2670.3,319.5 2673.8,330C2677.3,340.4 2677.5,353.4 2676,367.2C2674.5,381 2671.3,395.5 2668.1,409.6C2664.8,423.7 2661.3,437.6 2658.6,451.1C2655.8,464.7 2653.6,478 2652,491.1C2650.4,504.2 2649.5,517.1 2649.3,529.9C2649.2,542.7 2649.9,555.4 2651.6,568.1C2653.3,580.8 2656,593.5 2659.7,606.2C2663.5,618.9 2668.4,631.7 2674.6,644.7"/>
<path d="M2060.8,247.9C2077.1,249.3 2093.3,250.6 2109.4,251.8C2125.5,253 2141.5,254.2 2157.4,255.3C2173.3,256.4 2189.2,257.4 2204.9,258.3C2220.7,259.3 2236.5,260.2 2252.2,261.1C2267.9,262 2283.5,262.8 2299.2,263.7C2314.9,264.5 2330.6,265.3 2346.3,266.1C2362,266.9 2377.7,267.7 2393.5,268.4C2409.3,269.2 2425.2,270 2441.1,270.8C2457.1,271.7 2473.1,272.5 2489.3,273.4C2505.4,274.2 2521.6,275.1 2538,276.1C2554.4,277 2571,278 2587.6,279.1C2604.2,280.2 2620.8,281.7 2636.8,284C2652.9,286.2 2668.3,289.4 2682.8,293.9C2697.2,298.4 2710.6,304.4 2722.4,312.3C2734.3,320.2 2744.6,330.1 2752.8,342.5C2761.1,354.9 2767.3,369.8 2771.8,386C2776.3,402.1 2779.1,419.5 2780.3,436.9C2781.6,454.3 2781.3,471.7 2780.3,488C2779.2,504.3 2777.4,519.5 2775.5,532.7"/>
<path d="M1748.3,595.9C1743,598.6 1738.1,601.5 1733.5,604.7C1729,608 1724.7,611.5 1720.8,615.2C1716.8,618.9 1713.2,622.9 1709.9,627.1C1706.5,631.3 1703.4,635.6 1700.6,640.2C1697.7,644.7 1695.1,649.5 1692.7,654.3C1690.3,659.2 1688.1,664.2 1686,669.3C1684,674.3 1682.1,679.5 1680.4,684.8C1678.7,690 1677.1,695.4 1675.6,700.7C1674.1,706 1672.7,711.4 1671.4,716.8C1670.1,722.2 1668.8,727.5 1667.6,732.9C1666.4,738.2 1665.2,743.5 1664,748.7"/>
<path d="M1810,601.3L1810,644.7"/>
<path d="M1855.3,596.4C1872,611.9 1889.5,625.7 1907.5,637.9C1925.6,650.2 1944.3,660.9 1963.5,670.3C1982.7,679.7 2002.5,687.8 2022.6,694.8C2042.8,701.8 2063.4,707.8 2084.3,712.8C2105.2,717.8 2126.5,722 2147.9,725.5C2169.4,729 2191,731.9 2212.8,734.3C2234.6,736.7 2256.5,738.7 2278.5,740.4C2300.4,742.2 2322.4,743.7 2344.4,745C2366.3,746.3 2388.3,747.5 2410.3,748.5C2432.3,749.6 2454.3,750.5 2476.2,751.4C2498.2,752.4 2520.1,753.3 2542,754.3C2563.8,755.3 2585.7,756.3 2607.4,757.5C2629.2,758.7 2650.9,760 2672.5,761.6C2694.1,763.2 2715.6,764.9 2737,767"/>
<path d="M2058.3,592L1891,644.7"/>
<path d="M2102.3,594.9C2090.5,602.7 2078.5,610.5 2066.5,618.1C2054.4,625.6 2042.2,633.1 2030,640.3C2017.7,647.5 2005.3,654.5 1992.8,661.3C1980.2,668.1 1967.6,674.7 1954.8,681C1942.1,687.3 1929.2,693.3 1916.2,699.1C1903.2,704.8 1890.1,710.3 1876.8,715.4C1863.6,720.5 1850.2,725.3 1836.7,729.7C1823.1,734.1 1809.5,738.2 1795.7,741.9C1782,745.5 1768,748.8 1754,751.6"/>
<path d="M2193.8,598.8C2202.2,611.5 2211.2,623.1 2220.8,633.6C2230.4,644.2 2240.6,653.8 2251.2,662.4C2261.9,671.1 2273.1,678.8 2284.7,685.7C2296.4,692.7 2308.4,698.8 2320.9,704.3C2333.3,709.7 2346.1,714.4 2359.2,718.6C2372.3,722.8 2385.7,726.3 2399.4,729.4C2413,732.5 2426.9,735.2 2440.9,737.4C2455,739.6 2469.2,741.5 2483.5,743.1C2497.8,744.7 2512.2,746 2526.6,747.2C2541.1,748.4 2555.5,749.4 2570,750.3C2584.4,751.3 2598.8,752.2 2613.1,753.1C2627.4,754.1 2641.6,755.1 2655.6,756.3C2669.6,757.4 2683.4,758.7 2697,760.3C2710.6,761.9 2724,763.8 2737,766"/>
<path d="M1912.7,690.9C1943.3,693.7 1973.8,696.7 2004.3,699.8C2034.8,703 2065.3,706.3 2095.8,709.7C2126.3,713 2156.7,716.5 2187.2,719.9C2217.7,723.3 2248.2,726.8 2278.7,730.2C2309.1,733.6 2339.6,736.9 2370.1,740.1C2400.6,743.3 2431.1,746.4 2461.7,749.2C2492.2,752.1 2522.7,754.8 2553.3,757.2C2583.9,759.6 2614.4,761.8 2645.1,763.6C2675.7,765.4 2706.3,766.9 2737,768"/>
<path d="M1753.3,707.7L1698,748.7"/>
<path d="M1242.2,470.8C1262.4,472.2 1282.3,473.9 1302.2,475.7C1322.1,477.5 1341.9,479.5 1361.6,481.5C1381.4,483.5 1401.1,485.6 1420.7,487.6C1440.4,489.6 1460.1,491.6 1479.7,493.5C1499.4,495.3 1519.1,497 1538.9,498.5C1558.6,500 1578.5,501.3 1598.4,502.2C1618.3,503.2 1638.4,503.8 1658.6,504.1C1678.7,504.3 1699.1,504.2 1719.3,504.2C1739.6,504.2 1759.8,504.5 1779.8,505.4C1799.9,506.3 1819.7,508 1839.1,510.9C1858.6,513.8 1877.7,518 1896.1,524C1914.5,530.1 1932.1,538.2 1948.6,548.8C1965.1,559.5 1980.6,572.4 1996.4,584.9C2012.2,597.4 2028.3,609.1 2045,619.7C2061.7,630.4 2078.9,640 2096.4,648.9C2114,657.7 2131.9,665.7 2150.2,672.9C2168.5,680.2 2187.1,686.7 2205.9,692.6C2224.8,698.5 2243.9,703.8 2263.1,708.5C2282.4,713.3 2301.9,717.6 2321.4,721.4C2341,725.3 2360.6,728.8 2380.3,732C2400,735.2 2419.8,738.1 2439.6,740.7C2459.3,743.4 2479.2,745.8 2499,748C2518.8,750.1 2538.7,752.1 2558.5,753.9C2578.4,755.7 2598.3,757.4 2618.1,758.9C2638,760.4 2657.8,761.8 2677.6,763.2C2697.5,764.5 2717.2,765.8 2737,767"/>
<path d="M2723.8,788.3C2705.5,789.7 2687.2,791.2 2668.9,792.9C2650.7,794.7 2632.4,796.5 2614.2,798.6C2596,800.6 2577.8,802.7 2559.6,805C2541.4,807.2 2523.2,809.6 2505,812C2486.8,814.5 2468.7,817.1 2450.5,819.7C2432.4,822.3 2414.2,825 2396.1,827.7C2378,830.5 2359.8,833.2 2341.7,836C2323.6,838.8 2305.5,841.7 2287.4,844.5C2269.2,847.3 2251.1,850.2 2233,853"/>
<path d="M2724.4,799C2708.5,801.8 2692.5,804.7 2676.6,807.8C2660.6,810.8 2644.7,814 2628.8,817.2C2613,820.5 2597.1,823.8 2581.2,827.3C2565.4,830.7 2549.6,834.2 2533.7,837.8C2517.9,841.4 2502.1,845 2486.3,848.7C2470.5,852.5 2454.8,856.2 2439,860"/>
<path d="M2786.6,801.8L2636,860"/>
<path d="M2822.6,807.3L2780,860"/>
<path d="M2878.8,806.9L2926,860"/>
<path d="M2924.5,801.5L3087,860"/>
<path d="M2982.1,794C3000,796.1 3017.8,798.3 3035.6,800.8C3053.4,803.4 3071.1,806.1 3088.8,809.2C3106.5,812.2 3124.2,815.5 3141.7,819.1C3159.3,822.7 3176.8,826.6 3194.3,830.8C3211.7,835 3229.1,839.6 3246.4,844.4C3263.7,849.3 3280.9,854.5 3298,860"/>
<path d="M2982.2,787.4C3000.4,789.3 3018.7,791.1 3037,792.8C3055.3,794.5 3073.6,796.2 3091.9,797.9C3110.2,799.7 3128.5,801.4 3146.8,803.2C3165.1,805 3183.4,806.9 3201.7,809C3219.9,811.1 3238.2,813.3 3256.4,815.7C3274.6,818.2 3292.8,820.8 3310.9,823.8C3329,826.7 3347.1,830 3365,833.6C3383,837.2 3400.9,841.1 3418.8,845.5C3436.6,849.9 3454.4,854.7 3472,860"/>
<path d="M2746.2,707.1L2823,756"/>
<path d="M2792.1,600.3C2796,608.6 2799.8,616.9 2803.4,625.4C2807,633.8 2810.5,642.2 2813.8,650.8C2817.1,659.3 2820.3,667.9 2823.3,676.5C2826.3,685.2 2829.1,693.9 2831.7,702.7C2834.3,711.4 2836.7,720.3 2838.9,729.2C2841.2,738 2843.2,747 2845,756"/>
<path d="M2850.6,593.5L2963,644.7"/>
<path d="M3820.7,36.7C3776.3,37.3 3731.9,37.8 3687.6,38.4C3643.2,39 3598.8,39.7 3554.4,40.3C3510,41 3465.6,41.7 3421.2,42.4C3376.9,43.2 3332.5,44 3288.1,44.8C3243.7,45.7 3199.3,46.6 3155,47.6C3110.6,48.6 3066.2,49.6 3021.8,50.8C2977.4,51.9 2933.1,53.2 2888.7,54.5C2844.3,55.8 2800,57.2 2755.6,58.8C2711.2,60.3 2666.9,61.9 2622.5,63.7C2578.2,65.5 2533.8,67.3 2489.5,69.4C2445.2,71.4 2400.8,73.5 2356.5,75.8C2312.2,78.1 2267.9,80.5 2223.6,83.1C2179.2,85.7 2134.9,88.5 2090.6,91.4C2046.4,94.3 2002.1,97.4 1957.8,100.7C1913.5,103.9 1869.3,107.4 1825,111"/>
<path d="M3820.7,38C3793.4,39.5 3766,41 3738.6,42.4C3711.2,43.9 3683.8,45.3 3656.4,46.8C3629,48.2 3601.6,49.6 3574.2,51C3546.8,52.4 3519.3,53.9 3491.9,55.3C3464.4,56.7 3437,58.2 3409.6,59.6C3382.1,61.1 3354.6,62.6 3327.2,64.1C3299.7,65.6 3272.3,67.1 3244.8,68.7C3217.3,70.2 3189.9,71.9 3162.4,73.5C3135,75.2 3107.5,76.8 3080,78.6C3052.6,80.3 3025.1,82.1 2997.7,84C2970.2,85.9 2942.8,87.8 2915.4,89.8C2887.9,91.8 2860.5,93.9 2833.1,96C2805.6,98.2 2778.2,100.4 2750.8,102.7C2723.4,105 2696,107.4 2668.7,109.9C2641.3,112.5 2613.9,115.1 2586.6,117.8C2559.2,120.5 2531.9,123.3 2504.6,126.2C2477.3,129.1 2450,132.2 2422.7,135.4C2395.4,138.5 2368.1,141.8 2340.9,145.2C2313.6,148.7 2286.4,152.2 2259.2,155.9C2232,159.6 2204.8,163.5 2177.7,167.4C2150.5,171.4 2123.4,175.6 2096.3,179.9C2069.2,184.2 2042.1,188.6 2015.1,193.3C1988,197.9 1961,202.7 1934,207.6C1907.1,212.6 1880.1,217.7 1853.2,223.1C1826.2,228.4 1799.4,233.9 1772.5,239.6C1745.6,245.3 1718.8,251.2 1692,257.3C1665.2,263.5 1638.5,269.8 1611.8,276.3C1585.1,282.8 1558.4,289.5 1531.8,296.5C1505.1,303.4 1478.5,310.6 1452,318"/>
<path d="M3820.7,38.9C3802.9,41.4 3784.9,43.5 3766.8,45.2C3748.7,47 3730.5,48.5 3712.1,49.7C3693.8,50.9 3675.3,51.9 3656.8,52.7C3638.3,53.5 3619.7,54.2 3601,54.9C3582.4,55.5 3563.7,56 3545,56.6C3526.3,57.2 3507.6,57.9 3488.9,58.6C3470.2,59.3 3451.5,60.2 3432.8,61.2C3414.2,62.3 3395.6,63.5 3377,65.1C3358.5,66.6 3340,68.4 3321.7,70.6C3303.3,72.8 3285.1,75.4 3267,78.5C3249,81.6 3231.1,85.3 3213.4,89.5C3195.7,93.7 3178.3,98.6 3161.1,104.2C3143.9,109.8 3127,116.1 3110.5,123.3C3093.9,130.4 3077.7,138.5 3061.9,147.5C3046.1,156.5 3030.6,166.4 3015.6,177.5C3000.6,188.5 2986.1,200.7 2972,214"/>
<path d="M3820.8,52.9L3356,119.5"/>
<path d="M3843.5,68.2C3831.4,72 3819.7,76.4 3808.4,81.2C3797,86.1 3785.9,91.4 3775.1,97.2C3764.3,102.9 3753.8,109.1 3743.5,115.7C3733.3,122.2 3723.3,129.2 3713.5,136.5C3703.7,143.7 3694.1,151.3 3684.7,159.2C3675.4,167 3666.2,175.2 3657.2,183.5C3648.2,191.9 3639.3,200.4 3630.6,209.1C3621.9,217.9 3613.3,226.7 3604.9,235.7C3596.4,244.7 3588.1,253.8 3579.8,263C3571.6,272.1 3563.4,281.3 3555.2,290.5C3547.1,299.7 3539,308.9 3531,318"/>
<path d="M3912.4,74.6C3902.5,93.9 3892.7,113.2 3882.8,132.5C3873,151.8 3863.1,171 3853.3,190.3C3843.4,209.5 3833.6,228.8 3823.7,248.1C3813.9,267.4 3804.1,286.7 3794.3,306C3784.5,325.3 3774.7,344.6 3765,363.9C3755.3,383.2 3745.6,402.6 3736,422"/>
<path d="M3942.7,75.8C3946.8,95.1 3950.8,114.3 3954.8,133.6C3958.9,152.8 3962.9,172.1 3967,191.3C3971,210.6 3975.1,229.8 3979.1,249.1C3983.2,268.3 3987.4,287.5 3991.5,306.8C3995.7,326 3999.9,345.2 4004.1,364.4C4008.3,383.6 4012.6,402.8 4017,422"/>
<path d="M3985.1,71.1L4031,110"/>
<path d="M4048.5,65.8L4246,111"/>
<path d="M4048.5,38.5C4064.8,38.5 4080.4,40.5 4095.3,44.4C4110.1,48.3 4124.1,54 4137.1,61.2C4150.1,68.3 4162.1,77 4172.9,86.8C4183.7,96.6 4193.4,107.6 4201.6,119.4C4209.9,131.2 4216.8,143.8 4222.1,156.9C4227.4,170.1 4231.2,183.7 4233.8,197.7C4236.4,211.7 4237.7,226.1 4238.4,240.7C4239,255.4 4238.9,270.3 4238.3,285.4C4237.8,300.6 4237,315.9 4236.1,331.2C4235.3,346.6 4234.5,362.1 4234.2,377.5C4233.9,393 4234.1,408.4 4234.9,423.7C4235.6,439 4236.7,454.2 4237.5,469.3C4238.2,484.4 4238.7,499.4 4238.3,514.1C4237.9,528.9 4236.4,543.6 4233.7,557.8C4230.9,571.9 4226.8,585.6 4221,598.3C4215.2,611 4207.7,622.8 4198.3,633.2C4188.9,643.6 4177.8,652.7 4165.6,660.7C4153.4,668.6 4140.2,675.4 4126.5,681C4112.8,686.7 4098.6,691.2 4084.1,695C4069.6,698.8 4054.8,701.9 4039.9,704.6C4025,707.4 4010,709.8 3995.1,712.2C3980.1,714.6 3965.2,716.8 3950.3,719C3935.3,721.1 3920.4,723.1 3905.5,725.1C3890.6,727 3875.7,728.8 3860.8,730.5C3845.9,732.3 3831,733.9 3816.1,735.4C3801.3,736.9 3786.4,738.4 3771.5,739.7C3756.6,741.1 3741.8,742.4 3726.9,743.6C3712,744.7 3697.2,745.9 3682.3,746.9C3667.5,747.9 3652.6,748.9 3637.7,749.8C3622.9,750.7 3608,751.6 3593.2,752.3C3578.3,753.1 3563.5,753.9 3548.6,754.5C3533.8,755.2 3519,755.8 3504.1,756.4C3489.3,757 3474.4,757.5 3459.6,758.1C3444.7,758.6 3429.9,759 3415,759.5C3400.2,759.9 3385.3,760.3 3370.4,760.7C3355.6,761.1 3340.7,761.5 3325.9,761.8C3311,762.2 3296.1,762.5 3281.3,762.8C3266.4,763.2 3251.5,763.5 3236.6,763.8C3221.8,764.1 3206.9,764.5 3192,764.8C3177.1,765.1 3162.2,765.4 3147.3,765.8C3132.4,766.1 3117.5,766.5 3102.5,766.9C3087.6,767.2 3072.7,767.6 3057.7,768.1C3042.8,768.5 3027.9,768.9 3012.9,769.4C2997.9,769.9 2983,770.4 2968,771"/>
<path d="M4048.8,35.2C4060.6,34.7 4072.2,34.4 4083.7,34.2C4095.2,34.1 4106.6,34.1 4117.9,34.3C4129.2,34.5 4140.5,34.8 4151.6,35.3C4162.8,35.8 4174,36.4 4185.1,37.2C4196.3,37.9 4207.4,38.8 4218.5,39.7C4229.7,40.7 4240.9,41.8 4252.2,42.9C4263.4,44 4274.7,45.3 4286.2,46.5C4297.6,47.8 4309.1,49.1 4320.8,50.5C4332.4,51.9 4344.2,53.3 4355.9,55.1C4367.5,56.9 4379,59.2 4390.1,62.3C4401.2,65.4 4411.8,69.3 4421.8,74.4C4431.7,79.6 4441.1,86 4449.1,93.8C4457.1,101.6 4463.4,110.6 4465.6,120.2C4467.8,129.8 4465,139.9 4460,150.1C4455.1,160.2 4448.7,170.3 4442.8,180.1C4436.9,190 4431,199.8 4425.5,209.6C4419.9,219.4 4414.7,229.2 4410.2,239.2C4405.6,249.3 4401.8,259.5 4398.8,270C4395.9,280.6 4394,291.5 4392.9,302.7C4391.8,313.9 4391.4,325.3 4391.4,336.9C4391.3,348.4 4391.7,360.1 4392,371.8C4392.4,383.5 4392.7,395.2 4392.7,406.8C4392.7,418.3 4392.5,429.8 4392,441.2C4391.5,452.5 4390.8,463.8 4390,475.1C4389.2,486.4 4388.3,497.6 4387.3,508.8C4386.2,520 4385.2,531.2 4384.1,542.4C4383.1,553.6 4382,564.9 4381.1,576.1C4380.1,587.4 4379.2,598.8 4378.5,610.2C4377.8,621.6 4377.3,633.1 4377,644.7"/>
<path d="M4048.8,36.1C4061.7,36.5 4074.9,36.6 4088.3,36.6C4101.7,36.6 4115.3,36.4 4129.1,36.1C4142.8,35.9 4156.7,35.6 4170.7,35.4C4184.8,35.2 4198.8,35.1 4213,35.1C4227.1,35.2 4241.3,35.4 4255.4,36C4269.6,36.5 4283.7,37.3 4297.8,38.6C4311.8,39.9 4325.8,41.5 4339.6,43.8C4353.5,46 4367.2,48.7 4380.7,52.1C4394.2,55.5 4407.4,59.6 4420.1,64.4C4432.8,69.3 4445,74.9 4456.4,81.5C4467.7,88.1 4478.3,95.6 4487.7,104.2C4497.1,112.8 4505.5,122.4 4512.4,133.3C4519.3,144.1 4524.9,156.2 4528.7,169.6C4532.6,183 4534.8,197.8 4535,214"/>
<path d="M4048.8,36.7C4068.9,36.7 4088.7,36.4 4108.3,36.1C4127.9,35.8 4147.2,35.5 4166.4,35.3C4185.6,35.1 4204.7,35 4223.7,35.3C4242.8,35.6 4261.8,36.2 4280.9,37.3C4300.1,38.4 4319.3,40.1 4338.7,42.4C4358.1,44.7 4377.7,47.7 4397.2,51.5C4416.7,55.4 4436.1,60 4455.2,65.5C4474.3,71.1 4493.1,77.5 4511.3,85.1C4529.4,92.6 4546.9,101.1 4563.6,110.8C4580.3,120.5 4596.1,131.3 4610.7,143.5C4625.2,155.6 4638.4,169.1 4648.6,184.3C4658.7,199.6 4665.7,216.7 4670,234.9C4674.4,253.2 4675.9,272.5 4676,292.3C4676.2,312.1 4674.9,332.3 4673.6,352.5C4672.2,372.7 4671.1,392.7 4670.7,412.3C4670.2,431.9 4670.3,451.2 4670.5,470.4C4670.7,489.6 4671.2,508.7 4671.6,527.9C4672,547 4672.3,566.2 4672.4,585.7C4672.5,605.1 4672.3,624.7 4671.5,644.7"/>
<path d="M1839.8,140.3C1860.7,140.6 1881.6,140.9 1902.6,141.2C1923.6,141.5 1944.5,141.9 1965.5,142.4C1986.5,142.8 2007.5,143.3 2028.5,143.9C2049.6,144.4 2070.6,145 2091.6,145.6C2112.6,146.2 2133.7,146.9 2154.7,147.6C2175.8,148.3 2196.8,149 2217.9,149.7C2238.9,150.4 2260,151.2 2281,152C2302.1,152.7 2323.1,153.5 2344.1,154.3C2365.2,155.1 2386.2,155.9 2407.2,156.7C2428.2,157.5 2449.2,158.3 2470.2,159.1C2491.2,159.9 2512.2,160.7 2533.1,161.5C2554.1,162.2 2575,163 2595.9,163.8C2616.8,164.5 2637.7,165.2 2658.6,165.9C2679.5,166.6 2700.3,167.3 2721.2,168.1C2742,168.8 2762.9,169.6 2783.9,170.4C2804.8,171.3 2825.8,172.2 2846.8,173.3C2867.9,174.3 2889,175.5 2910.3,176.9C2931.5,178.2 2952.9,179.7 2974.4,181.5C2995.8,183.2 3017.7,185 3039.1,187.6C3060.4,190.3 3080.9,194.1 3098.4,201.2C3115.9,208.2 3130.5,218.5 3139.9,233.9C3149.3,249.4 3152.9,271.3 3152.3,295.2C3151.6,319.1 3146.8,344.1 3140.6,365.9C3134.5,387.7 3127.2,407 3122,422"/>
<path d="M1839.8,139.8C1852.6,140.1 1865.4,140.4 1878.1,140.7C1890.9,141 1903.7,141.3 1916.5,141.5C1929.2,141.8 1942,142.1 1954.7,142.4C1967.5,142.7 1980.2,143 1993,143.2C2005.7,143.5 2018.5,143.8 2031.2,144.1C2043.9,144.4 2056.7,144.6 2069.4,144.9C2082.1,145.2 2094.8,145.5 2107.5,145.8C2120.3,146.1 2133,146.4 2145.7,146.7C2158.4,146.9 2171.1,147.2 2183.8,147.5C2196.5,147.8 2209.2,148.1 2221.9,148.5C2234.6,148.8 2247.3,149.1 2260,149.4C2272.7,149.7 2285.4,150 2298.1,150.4C2310.9,150.7 2323.6,151 2336.3,151.4C2349,151.7 2361.7,152.1 2374.4,152.4C2387.1,152.8 2399.8,153.2 2412.5,153.5C2425.2,153.9 2437.9,154.3 2450.6,154.7C2463.3,155.1 2476,155.5 2488.7,155.9C2501.4,156.3 2514.1,156.8 2526.9,157.2C2539.6,157.6 2552.3,158.1 2565,158.5C2577.8,159 2590.5,159.5 2603.2,160C2616,160.4 2628.7,160.9 2641.4,161.5C2654.2,162 2666.9,162.5 2679.7,163C2692.4,163.6 2705.2,164.1 2718,164.7C2730.7,165.3 2743.5,165.9 2756.3,166.5C2769.1,167.1 2781.8,167.7 2794.6,168.3C2807.4,169 2820.2,169.6 2833,170.3C2845.9,171 2858.7,171.7 2871.5,172.4C2884.3,173.1 2897.2,173.8 2910,174.6C2922.8,175.3 2935.7,176.1 2948.5,176.9C2961.4,177.7 2974.3,178.5 2987.2,179.3C3000,180.2 3012.8,181.2 3024.6,183.5C3036.4,185.8 3047.4,189.3 3056.6,195.1C3065.8,200.8 3073.4,208.9 3078.4,220.2C3083.5,231.5 3086.1,245.9 3087,260.6C3087.9,275.3 3087.1,289.9 3084.8,303.4C3082.5,316.9 3078.6,329.4 3073.3,340.5C3068,351.6 3061.2,361.3 3052.5,369.8C3043.8,378.3 3032.9,385.5 3021.7,392.6C3010.5,399.7 2999.1,406.8 2990.2,415.3C2981.2,423.8 2974.5,433.6 2972.1,444.6C2969.7,455.6 2971.7,467.9 2976.2,479.7C2980.7,491.4 2987.5,502.2 2995.4,511.4C3003.3,520.7 3012.5,528.7 3022.6,536.2C3032.7,543.7 3043.6,550.7 3054.9,557.7C3066.2,564.8 3077.9,571.9 3089.5,579.8C3101.1,587.6 3112.5,596 3122.4,605C3132.4,613.9 3140.9,623.4 3146.8,633.4C3152.6,643.4 3155.8,653.8 3155.2,664.7C3154.6,675.5 3150.5,686.6 3143.9,696.9C3137.2,707.3 3128.1,716.9 3117.5,724.7C3106.9,732.6 3094.8,738.5 3082.3,742C3069.7,745.5 3056.6,747.1 3043.4,748.1C3030.2,749.2 3017,749.7 3004.2,751.1C2991.5,752.6 2979.2,755 2968,759.8"/>
<path d="M2999.2,280.6C3006,285.3 3011.6,290.3 3016.3,295.6C3020.9,300.9 3024.5,306.5 3027.1,312.1C3029.8,317.8 3031.5,323.5 3032.3,329.3C3033.1,335.1 3033.1,340.8 3032.2,346.5C3031.3,352.1 3029.6,357.6 3027.2,362.8C3024.8,368 3021.6,373 3017.8,377.6C3014,382.2 3009.5,386.3 3004.4,390.1C2999.4,393.8 2993.8,397.1 2988.1,400.2C2982.4,403.4 2976.5,406.4 2970.7,409.5C2965,412.5 2959.5,415.7 2954.4,419.2C2949.4,422.7 2944.9,426.6 2941.2,431C2937.6,435.4 2934.6,440.3 2932.2,445.6C2929.8,450.9 2927.9,456.5 2926.3,462.4C2924.7,468.2 2923.4,474.3 2922.1,480.4C2920.8,486.5 2919.6,492.7 2918.2,498.8C2916.9,504.9 2915.5,511.1 2914.1,517.2C2912.7,523.3 2911.3,529.5 2909.8,535.6C2908.3,541.7 2906.8,547.9 2905.3,554C2903.7,560.1 2902.2,566.3 2900.6,572.4C2899,578.5 2897.4,584.7 2895.8,590.8C2894.2,596.9 2892.6,603.1 2891,609.2C2889.4,615.3 2887.8,621.4 2886.1,627.6C2884.5,633.7 2882.9,639.8 2881.3,645.9C2879.7,652 2878.1,658.2 2876.5,664.3C2875,670.4 2873.4,676.5 2871.9,682.6C2870.3,688.8 2868.8,694.9 2867.3,701C2865.9,707.1 2864.4,713.2 2863,719.3C2861.6,725.4 2860.2,731.6 2858.9,737.7C2857.5,743.8 2856.2,749.9 2855,756"/>
<path d="M3239.7,177.7L3132.5,422"/>
<path d="M3254.8,178.8C3255.9,189.6 3256.7,200.4 3257.4,211.2C3258,222.1 3258.5,232.9 3258.9,243.8C3259.3,254.7 3259.5,265.6 3259.8,276.5C3260,287.4 3260.2,298.3 3260.5,309.2C3260.7,320.1 3261.1,331 3261.5,341.9C3261.9,352.7 3262.5,363.6 3263.2,374.4C3264,385.2 3264.9,396 3266.2,406.7C3267.4,417.5 3268.9,428.1 3270.8,438.8C3272.6,449.4 3274.8,460 3277.5,470.5C3280.1,481 3283.2,491.5 3286.7,501.8C3290.3,512.2 3294.4,522.5 3299,532.7"/>
<path d="M3369.6,153.7C3383.8,156.9 3398.2,159.8 3412.9,162.5C3427.5,165.2 3442.4,167.7 3457.4,170.1C3472.4,172.4 3487.5,174.7 3502.7,177C3517.9,179.3 3533.2,181.6 3548.4,184C3563.7,186.4 3579,188.9 3594.2,191.7C3609.4,194.5 3624.5,197.5 3639.4,200.9C3654.4,204.2 3669.2,208 3683.8,212.2C3698.4,216.4 3712.8,221 3726.9,226.3C3741,231.5 3754.8,237.4 3768.3,243.9C3781.7,250.4 3794.8,257.7 3807.5,265.7C3820.1,273.8 3832.4,282.6 3843.3,292.5C3854.2,302.3 3863.8,313.2 3871.1,325.3C3878.3,337.3 3883,350.7 3885.5,365.1C3888.1,379.5 3888.8,394.8 3889,410.5C3889.2,426.1 3889.1,442.1 3889.3,457.9C3889.5,473.8 3889.7,489.6 3889.1,505.1C3888.6,520.7 3887.3,536 3884.6,550.9C3881.9,565.8 3877.8,580.3 3872.2,593.9C3866.7,607.4 3859.6,620 3850.9,631.1C3842.3,642.1 3832,651.7 3820.5,660.1C3808.9,668.4 3796.1,675.5 3782.5,681.6C3768.8,687.7 3754.3,692.8 3739.3,697.2C3724.3,701.6 3708.8,705.3 3693.2,708.5C3677.6,711.7 3661.8,714.5 3646.4,717.1C3630.9,719.7 3615.6,722.1 3600.5,724.3C3585.3,726.4 3570.4,728.4 3555.5,730.3C3540.6,732.1 3525.8,733.8 3511,735.4C3496.2,736.9 3481.5,738.4 3466.7,739.7C3451.9,741.1 3437.1,742.3 3422.3,743.5C3407.4,744.7 3392.4,745.9 3377.4,747C3362.4,748.1 3347.3,749.1 3332.1,750.1C3317,751.1 3301.8,752.1 3286.6,753C3271.4,753.9 3256.1,754.8 3240.9,755.7C3225.6,756.5 3210.3,757.3 3195,758.1C3179.8,758.9 3164.5,759.7 3149.2,760.4C3134,761.2 3118.7,761.9 3103.5,762.6C3088.3,763.4 3073.1,764.1 3058,764.8C3042.9,765.5 3027.8,766.2 3012.8,766.9C2997.8,767.6 2982.9,768.3 2968,769"/>
<path d="M3396.8,374.2L3218,419"/>
<path d="M3458.4,381.5L3405,422"/>
<path d="M3502.5,386.6C3501.8,392.9 3500.7,399 3499.2,404.9C3497.8,410.9 3496,416.7 3493.9,422.4C3491.8,428 3489.3,433.5 3486.6,438.9C3483.8,444.2 3480.8,449.4 3477.5,454.5C3474.1,459.5 3470.6,464.3 3466.7,469C3462.9,473.7 3458.9,478.2 3454.6,482.5C3450.3,486.8 3445.9,491 3441.2,494.9C3436.6,498.9 3431.8,502.6 3426.8,506.2C3421.8,509.7 3416.7,513.1 3411.5,516.3C3406.3,519.4 3400.9,522.4 3395.5,525.1C3390.1,527.9 3384.6,530.4 3379,532.7"/>
<path d="M3510.5,386.8C3511.2,396.1 3511.7,405.7 3511.9,415.5C3512.1,425.3 3511.9,435.3 3511.3,445.3C3510.8,455.3 3509.8,465.3 3508.3,475.2C3506.8,485 3504.8,494.8 3502.2,504.2C3499.6,513.6 3496.4,522.8 3492.5,531.4C3488.6,540.1 3484,548.2 3478.7,555.8C3473.3,563.4 3467.4,570.5 3460.8,577C3454.3,583.5 3447.1,589.4 3439.6,594.9C3432,600.3 3424,605.2 3415.7,609.5C3407.4,613.8 3398.7,617.6 3389.8,620.9C3380.9,624.2 3371.7,627.1 3362.4,629.5C3353.1,631.9 3343.5,634 3333.8,635.7C3324.2,637.5 3314.4,638.9 3304.5,640.2C3294.6,641.5 3284.6,642.5 3274.6,643.5C3264.6,644.4 3254.6,645.2 3244.7,646.1C3234.7,646.9 3224.7,647.7 3214.9,648.6C3205,649.4 3195.3,650.4 3185.7,651.5C3176.1,652.6 3166.6,653.9 3157.4,655.5C3148.1,657 3139.1,658.8 3130.3,661"/>
<path d="M3518.9,386.7C3523.8,401.3 3527.2,415.7 3529.1,429.8C3530.9,443.9 3531.4,457.7 3530.5,471.2C3529.6,484.7 3527.4,497.8 3524,510.5C3520.6,523.2 3516,535.5 3510.3,547.2C3504.7,558.9 3498,570.1 3490.4,580.7C3482.8,591.3 3474.2,601.3 3465,610.7C3455.7,620.1 3445.7,628.9 3435,637.1C3424.4,645.3 3413.2,653 3401.6,660.1C3389.9,667.2 3377.9,673.7 3365.5,679.7C3353.2,685.7 3340.6,691.1 3327.8,696.1C3315.1,701 3302.2,705.5 3289.1,709.5C3276.1,713.5 3262.9,717.2 3249.6,720.4C3236.3,723.7 3223,726.7 3209.5,729.4C3196.1,732.1 3182.6,734.5 3169,736.8C3155.5,739 3141.9,741.1 3128.4,743.1C3114.8,745.2 3101.3,747.1 3087.7,749C3074.2,750.9 3060.7,752.8 3047.3,754.7C3033.9,756.7 3020.6,758.7 3007.3,760.9C2994.1,763.1 2981,765.4 2968,768"/>
<path d="M3345,489.8L3327.8,532.7"/>
<path d="M3609.9,480.7L3398.5,532.7"/>
<path d="M3714,490.5C3712.2,503.9 3709.8,517.8 3706.7,531.9C3703.6,545.9 3699.7,560.1 3695,574C3690.3,587.9 3684.8,601.5 3678.4,614.4C3672,627.2 3664.7,639.3 3656.4,650.1C3648.1,661 3638.9,670.6 3628.6,678.6C3618.4,686.7 3607.2,693.2 3595.2,698.7C3583.2,704.1 3570.5,708.4 3557.3,711.9C3544.1,715.3 3530.4,718 3516.3,720.1C3502.3,722.2 3488,723.8 3473.6,725.3C3459.2,726.7 3444.8,727.9 3430.4,729.3C3416.1,730.6 3401.8,732 3387.7,733.3C3373.5,734.7 3359.4,736.1 3345.3,737.5C3331.3,738.9 3317.2,740.3 3303.3,741.8C3289.3,743.2 3275.4,744.6 3261.5,746C3247.6,747.4 3233.7,748.7 3219.8,750.1C3206,751.5 3192.1,752.8 3178.2,754.1C3164.4,755.4 3150.5,756.7 3136.6,757.9C3122.7,759.1 3108.8,760.3 3094.9,761.4C3080.9,762.5 3066.9,763.5 3052.9,764.5C3038.9,765.5 3024.8,766.5 3010.6,767.3C2996.5,768.2 2982.3,768.9 2968,769.6"/>
<path d="M3908.3,470C3881.4,474 3854.4,478 3827.4,482C3800.4,486 3773.4,490 3746.4,494C3719.4,498 3692.4,502 3665.4,506.1C3638.5,510.2 3611.5,514.3 3584.5,518.4C3557.5,522.6 3530.6,526.8 3503.6,531C3476.7,535.3 3449.7,539.6 3422.8,544"/>
<path d="M4013.5,490.3C4010.7,508.8 4006.9,527.8 4001.6,546.4C3996.4,564.9 3989.7,583 3981.1,599.6C3972.5,616.1 3961.8,631 3949.2,643.7C3936.5,656.5 3922,667.3 3906.4,676.6C3890.8,685.9 3874.2,693.7 3857.2,700.4C3840.3,707.1 3822.8,712.7 3805.1,717.4C3787.3,722 3769.2,725.8 3750.9,728.9C3732.5,731.9 3713.9,734.3 3695.2,736.3C3676.5,738.2 3657.6,739.7 3638.7,740.9C3619.8,742.1 3600.9,743.1 3582,744.1C3563.2,745.1 3544.4,746.1 3525.7,747C3506.9,748 3488.2,749 3469.6,749.9C3451,750.9 3432.4,751.8 3413.8,752.8C3395.3,753.7 3376.7,754.6 3358.2,755.5C3339.7,756.4 3321.2,757.3 3302.8,758.1C3284.3,759 3265.8,759.8 3247.3,760.6C3228.8,761.4 3210.4,762.2 3191.8,762.9C3173.3,763.6 3154.8,764.4 3136.2,765C3117.7,765.7 3099.1,766.3 3080.5,766.9C3061.8,767.5 3043.1,768.1 3024.4,768.6C3005.7,769.1 2986.9,769.6 2968,770"/>
<path d="M4108.4,176.5C4119,187.2 4128.1,198.3 4136,209.8C4143.9,221.2 4150.6,233 4156.3,245.2C4161.9,257.3 4166.5,269.7 4170.2,282.4C4173.9,295.1 4176.8,308 4178.9,321.2C4181,334.3 4182.5,347.6 4183.4,361.1C4184.3,374.6 4184.7,388.2 4184.9,402C4185.2,415.8 4185.2,429.8 4185.3,444C4185.5,458.2 4185.9,472.6 4186.4,487.1C4186.8,501.6 4187,516.2 4186.5,530.3C4185.9,544.4 4184.5,558.2 4181.6,571.2C4178.7,584.1 4174.4,596.3 4168.5,607.2C4162.6,618.1 4155,627.8 4145.5,635.7C4136,643.6 4124.7,649.8 4112.3,655.1C4100,660.4 4086.8,664.7 4073.5,668.8C4060.3,673 4047,676.8 4033.6,680.4C4020.2,684 4006.8,687.4 3993.3,690.6C3979.9,693.7 3966.3,696.7 3952.8,699.5C3939.3,702.2 3925.7,704.8 3912.1,707.3C3898.5,709.8 3884.9,712.1 3871.3,714.3C3857.7,716.5 3844.1,718.6 3830.5,720.6C3816.8,722.6 3803.2,724.5 3789.6,726.3C3776,728.1 3762.3,729.8 3748.7,731.5C3735,733.1 3721.4,734.6 3707.8,736.1C3694.1,737.5 3680.5,738.9 3666.8,740.2C3653.2,741.4 3639.5,742.7 3625.8,743.8C3612.2,744.9 3598.5,746 3584.9,747C3571.2,748 3557.5,749 3543.8,749.8C3530.2,750.7 3516.5,751.6 3502.8,752.3C3489.1,753.1 3475.5,753.8 3461.8,754.5C3448.1,755.2 3434.4,755.8 3420.7,756.4C3407,757 3393.3,757.6 3379.6,758.1C3365.9,758.6 3352.2,759.1 3338.5,759.6C3324.8,760.1 3311.1,760.5 3297.4,760.9C3283.7,761.3 3270,761.7 3256.3,762.1C3242.6,762.5 3228.8,762.9 3215.1,763.3C3201.4,763.6 3187.7,764 3174,764.4C3160.2,764.7 3146.5,765.1 3132.8,765.4C3119.1,765.8 3105.3,766.2 3091.6,766.6C3077.9,766.9 3064.1,767.3 3050.4,767.8C3036.7,768.2 3022.9,768.6 3009.2,769.1C2995.5,769.5 2981.7,770 2968,770.5"/>
<path d="M4533.4,282.8C4534,302.7 4534.3,322 4534.4,341.1C4534.5,360.1 4534.5,378.8 4534.5,397.6C4534.4,416.3 4534.4,435.1 4534.6,454.2C4534.8,473.3 4535.3,492.8 4536.1,512.9C4536.9,533 4538.4,553.8 4538.4,574.1C4538.4,594.4 4537.1,614 4532.3,631.6C4527.6,649.2 4519.1,664.6 4507.1,677.1C4495.1,689.6 4479.6,699 4462.9,706.2C4446.1,713.5 4428.4,718.7 4410.1,722.6C4391.9,726.4 4372.9,728.9 4353.6,730.4C4334.3,732 4314.6,732.6 4294.8,733C4275,733.3 4255.1,733.2 4235.4,733.4C4215.6,733.5 4196,734 4176.5,734.6C4157.1,735.3 4137.8,736.1 4118.6,737.1C4099.4,738.1 4080.3,739.3 4061.2,740.5C4042.1,741.7 4023.1,743 4004.1,744.2C3985.1,745.5 3966.1,746.7 3947.1,747.9C3928.1,749 3909,750.1 3889.9,751.2C3870.9,752.2 3851.8,753.2 3832.6,754.1C3813.5,755.1 3794.4,755.9 3775.2,756.7C3756.1,757.6 3736.9,758.3 3717.7,759.1C3698.5,759.8 3679.3,760.5 3660.1,761.1C3640.9,761.7 3621.6,762.3 3602.4,762.9C3583.2,763.4 3563.9,763.9 3544.7,764.4C3525.4,764.9 3506.2,765.3 3486.9,765.7C3467.7,766.2 3448.4,766.5 3429.1,766.9C3409.9,767.2 3390.6,767.6 3371.4,767.9C3352.1,768.2 3332.8,768.4 3313.6,768.7C3294.3,769 3275.1,769.2 3255.8,769.4C3236.6,769.6 3217.3,769.8 3198.1,770C3178.9,770.2 3159.7,770.4 3140.5,770.6C3121.2,770.8 3102.1,770.9 3082.9,771.1C3063.7,771.2 3044.5,771.4 3025.4,771.5C3006.2,771.7 2987.1,771.8 2968,772"/>
<path d="M4259.1,698C4211.6,704.9 4164,711.1 4116.4,716.8C4068.8,722.4 4021.1,727.4 3973.4,731.8C3925.7,736.3 3878,740.2 3830.2,743.7C3782.4,747.1 3734.6,750.1 3686.7,752.8C3638.9,755.4 3591,757.6 3543.1,759.5C3495.2,761.4 3447.3,763 3399.4,764.3C3351.4,765.6 3303.5,766.7 3255.6,767.6C3207.6,768.5 3159.7,769.2 3111.8,769.9C3063.8,770.5 3015.9,771 2968,771.5"/>
<path d="M4557.6,697.9C4513.6,702 4469.5,706 4425.5,709.7C4381.4,713.5 4337.4,717 4293.3,720.4C4249.2,723.7 4205.1,726.9 4161,729.9C4116.9,732.8 4072.7,735.6 4028.6,738.3C3984.5,740.9 3940.3,743.4 3896.2,745.6C3852,747.9 3807.8,750 3763.7,752C3719.5,754 3675.3,755.8 3631.1,757.4C3586.9,759.1 3542.7,760.6 3498.5,762C3454.3,763.3 3410.1,764.5 3365.9,765.6C3321.7,766.7 3277.5,767.7 3233.3,768.5C3189.1,769.3 3144.8,770 3100.6,770.6C3056.4,771.2 3012.2,771.6 2968,772"/>
<path d="M3367.2,125.7C3369,125.5 3379.5,130 3379.5,137.3 3379.5,145 3369,150.5 3355,154"/>
<path d="M3054.2,229.7C3056,229.5 3066.5,234 3066.5,241.3 3066.5,249 3056,254.5 3042,258"/>
<path d="M3622.2,333.7C3624,333.5 3634.5,338 3634.5,345.3 3634.5,353 3624,358.5 3610,362"/>
<path d="M3835.2,437.7C3837,437.5 3847.5,442 3847.5,449.3 3847.5,457 3837,462.5 3823,466"/>
<path d="M4134.2,437.7C4136,437.5 4146.5,442 4146.5,449.3 4146.5,457 4136,462.5 4122,466"/>
<path d="M2778.2,660.4C2780,660.2 2790.5,664.7 2790.5,672 2790.5,679.7 2780,685.2 2766,688.7"/>
<path d="M4485,660.4C4486.8,660.2 4497.3,664.7 4497.3,672 4497.3,679.7 4486.8,685.2 4472.8,688.7"/>
<path d="M4783.5,660.4C4785.3,660.2 4795.8,664.7 4795.8,672 4795.8,679.7 4785.3,685.2 4771.3,688.7"/>
</g>
<g fill="#191970" stroke="#191970" stroke-width="1.33">
<polygon points="424,256 411.8,263.1 410.1,253.9"/>
<polygon points="435,269.5 425.1,279.6 421,271.2"/>
<polygon points="445,269.5 437.8,281.6 431.8,274.4"/>
<polygon points="529,269.5 532.6,283.1 523.3,282.4"/>
<polygon points="221,477.5 213.5,489.5 207.7,482.2"/>
<polygon points="292,477.5 305.7,481 300.5,488.8"/>
<polygon points="859,360 846.5,366.5 845.2,357.2"/>
<polygon points="1054,464.5 1041.5,471.1 1040.2,461.9"/>
<polygon points="640,269 654,267.4 651.9,276.5"/>
<polygon points="1624,141 1610.9,146.1 1610.6,136.8"/>
<polygon points="912,373.5 903.1,384.4 898.2,376.5"/>
<polygon points="1011,373.5 1024.8,376.3 1020,384.3"/>
<polygon points="640,247.5 653.5,243.3 653.1,252.6"/>
<polygon points="1305,373.5 1294.9,383.4 1291,374.9"/>
<polygon points="1899,245 1885.8,250 1885.6,240.7"/>
<polygon points="1540,366 1527.9,373.3 1526,364.2"/>
<polygon points="1265.5,353 1253.2,359.9 1251.6,350.7"/>
<polygon points="1090,477.5 1080.4,487.8 1076.1,479.6"/>
<polygon points="1899,244 1885.8,248.9 1885.6,239.5"/>
<polygon points="1899,244.5 1885.8,249.5 1885.6,240.2"/>
<polygon points="1165,477.5 1176.1,486.2 1168.2,491.2"/>
<polygon points="940,373.5 943.7,387.1 934.4,386.4"/>
<polygon points="1322.8,373.5 1316.5,386.1 1310,379.4"/>
<polygon points="1229,477 1243.1,476.3 1240.4,485.2"/>
<polygon points="1384,373.5 1394.3,383.1 1386.1,387.4"/>
<polygon points="1899,249 1886.1,254.7 1885.4,245.4"/>
<polygon points="1899,267 1887.5,275.2 1884.9,266.2"/>
<polygon points="1624,141 1610.9,146.1 1610.6,136.8"/>
<polygon points="640,242 653.3,237.3 653.3,246.6"/>
<polygon points="1899,266.5 1886,271.9 1885.5,262.6"/>
<polygon points="1899,270 1891.9,282.2 1885.9,275.1"/>
<polygon points="1466,367 1479.6,363.4 1478.9,372.7"/>
<polygon points="1466,368 1479.8,364.9 1478.7,374.2"/>
<polygon points="1466,369 1480,367.3 1478,376.5"/>
<polygon points="1050,358 1063.7,354.9 1062.7,364.2"/>
<polygon points="968.5,373.5 974.9,386.1 965.6,387.3"/>
<polygon points="1229,469 1242.7,465.6 1241.8,474.9"/>
<polygon points="1229,470 1242.7,466.7 1241.8,476"/>
<polygon points="1229,477 1243,478.7 1238.9,487.1"/>
<polygon points="1243,588 1254.3,596.4 1246.6,601.6"/>
<polygon points="1225,588 1232.6,599.8 1223.6,602"/>
<polygon points="1320.5,585 1334.3,582.3 1333,591.5"/>
<polygon points="1636,373.5 1641.3,386.6 1632,387"/>
<polygon points="1643,373.5 1650.8,385.2 1641.8,387.5"/>
<polygon points="1697,373.5 1710.8,376.4 1706,384.4"/>
<polygon points="1707,375 1721.1,376.1 1717.3,384.6"/>
<polygon points="1726,373 1740,371.1 1738.1,380.2"/>
<polygon points="2841.6,250 2828.7,255.6 2828,246.3"/>
<polygon points="1947,269.5 1949.2,283.4 1940,281.7"/>
<polygon points="1950,269.5 1953.4,283.2 1944.1,282.3"/>
<polygon points="1994,269.5 2003.9,279.5 1995.5,283.5"/>
<polygon points="2046,269 2060.1,269.3 2056.8,278"/>
<polygon points="2047.5,257 2061.4,254.8 2059.7,264"/>
<polygon points="2047.5,247 2061.1,243.3 2060.4,252.6"/>
<polygon points="3155,148 3142,153.5 3141.4,144.2"/>
<polygon points="2047.5,246 2061,242.1 2060.5,251.4"/>
<polygon points="2047.5,246.5 2061.1,242.7 2060.5,252"/>
<polygon points="2047.5,247 2061.1,243.2 2060.5,252.5"/>
<polygon points="1759,588 1751.1,599.7 1745.5,592.2"/>
<polygon points="1810,588 1814.7,601.3 1805.3,601.3"/>
<polygon points="1845,588 1858.3,592.8 1852.4,600"/>
<polygon points="2071,588 2059.7,596.5 2056.9,587.5"/>
<polygon points="2113.7,588 2104.7,598.9 2099.9,590.9"/>
<polygon points="2186,588 2197.6,596.1 2190,601.5"/>
<polygon points="1899.5,689.5 1913.2,686.2 1912.3,695.5"/>
<polygon points="1764,699.8 1756.1,711.5 1750.5,704"/>
<polygon points="1229,469.5 1242.7,466.1 1241.8,475.4"/>
<polygon points="2737,787 2724.2,792.9 2723.3,783.6"/>
<polygon points="2737.5,796.5 2725.3,803.6 2723.6,794.4"/>
<polygon points="2799,797 2788.3,806.2 2784.9,797.4"/>
<polygon points="2831,797 2826.3,810.3 2819,804.4"/>
<polygon points="2870,797 2882.3,803.8 2875.3,810"/>
<polygon points="2912,797 2926.1,797.1 2922.9,805.9"/>
<polygon points="2969,792 2982.9,789.4 2981.4,798.6"/>
<polygon points="2969,786 2982.7,782.7 2981.8,792"/>
<polygon points="2735,700 2748.7,703.2 2743.7,711.1"/>
<polygon points="2787,588 2796.4,598.5 2787.8,602.1"/>
<polygon points="2838.5,588 2852.5,589.3 2848.7,597.8"/>
<polygon points="3834,36.5 3820.8,41.4 3820.6,32"/>
<polygon points="3834,37.5 3820.9,42.7 3820.5,33.4"/>
<polygon points="3834,38 3821,43.5 3820.4,34.2"/>
<polygon points="3834,51 3821.5,57.5 3820.2,48.3"/>
<polygon points="3855.6,62.8 3845.4,72.5 3841.6,64"/>
<polygon points="3918.4,62.8 3916.5,76.8 3908.2,72.5"/>
<polygon points="3940,62.8 3947.3,74.9 3938.2,76.8"/>
<polygon points="3975,62.5 3988.2,67.5 3982.1,74.7"/>
<polygon points="4035.5,62.8 4049.5,61.2 4047.4,70.3"/>
<polygon points="4035.5,35.5 4049.5,34 4047.4,43.1"/>
<polygon points="4035.5,35 4048.9,30.5 4048.7,39.9"/>
<polygon points="4035.5,36 4048.8,31.4 4048.8,40.8"/>
<polygon points="4035.5,36.5 4048.9,32 4048.7,41.4"/>
<polygon points="1826.5,140 1839.9,135.7 1839.7,145"/>
<polygon points="1826.5,139.5 1839.9,135.1 1839.7,144.5"/>
<polygon points="2990,271 3002.6,277.4 2995.8,283.8"/>
<polygon points="3245,165.5 3243.9,179.6 3235.4,175.8"/>
<polygon points="3254,165.5 3259.5,178.5 3250.2,179.1"/>
<polygon points="3356.5,151.5 3370.4,149.1 3368.9,158.3"/>
<polygon points="3409.7,371 3397.9,378.8 3395.7,369.7"/>
<polygon points="3469,373.5 3461.2,385.3 3455.6,377.8"/>
<polygon points="3504.5,373.5 3507.1,387.4 3497.8,385.9"/>
<polygon points="3511,373.5 3515.2,387 3505.8,386.6"/>
<polygon points="3517.4,373.5 3523.5,386.2 3514.2,387.2"/>
<polygon points="3350,477.5 3349.4,491.6 3340.7,488.1"/>
<polygon points="3622.8,477.5 3611,485.2 3608.8,476.1"/>
<polygon points="3716.6,477.5 3718.5,491.5 3709.4,489.6"/>
<polygon points="3921.5,468 3909,474.6 3907.7,465.3"/>
<polygon points="4017,477.5 4018,491.6 4009,489.1"/>
<polygon points="4101,165.5 4112.3,173.9 4104.5,179.1"/>
<polygon points="4533,269.5 4538,282.7 4528.7,282.9"/>
<polygon points="4272.3,696.5 4259.6,702.7 4258.6,693.4"/>
<polygon points="4570.8,696.5 4558.1,702.5 4557.1,693.3"/>
<polygon points="3355,120.5 3369.1,121.4 3365.4,130"/>
<polygon points="3042,224.5 3056.1,225.4 3052.4,234"/>
<polygon points="3610,328.5 3624.1,329.4 3620.4,338"/>
<polygon points="3823,432.5 3837.1,433.4 3833.4,442"/>
<polygon points="4122,432.5 4136.1,433.4 4132.4,442"/>
<polygon points="2766,655.2 2780.1,656.1 2776.4,664.7"/>
<polygon points="4472.8,655.2 4486.9,656.1 4483.2,664.7"/>
<polygon points="4771.3,655.2 4785.4,656.1 4781.7,664.7"/>
</g>
<rect x="3834" y="6" width="200" height="54.7" fill="#bfbfbf" stroke="#000" stroke-width="1.33"/>
<text x="3845.2" y="22.6" textLength="124.4" lengthAdjust="spacingAndGlyphs">/root/ACloudViewer</text>
<text x="3845.2" y="37.3" textLength="177.2" lengthAdjust="spacingAndGlyphs">/libs/cloudViewer/geometry</text>
<text x="3934" y="51.9" text-anchor="middle" textLength="79.5" lengthAdjust="spacingAndGlyphs">/Geometry.h</text>
<rect x="1624" y="110" width="201" height="54.7" fill="white" stroke="#000" stroke-width="1.33"/>
<text x="1635.2" y="126.6" textLength="124.4" lengthAdjust="spacingAndGlyphs">/root/ACloudViewer</text>
<text x="1635.2" y="141.3" textLength="177.2" lengthAdjust="spacingAndGlyphs">/libs/cloudViewer/geometry</text>
<text x="1724.5" y="155.9" text-anchor="middle" textLength="126.4" lengthAdjust="spacingAndGlyphs">/BoundingVolume.h</text>
<rect x="3155" y="110" width="200" height="54.7" fill="white" stroke="#000" stroke-width="1.33"/>
<text x="3166.2" y="126.6" textLength="124.4" lengthAdjust="spacingAndGlyphs">/root/ACloudViewer</text>
<text x="3166.2" y="141.3" textLength="177.2" lengthAdjust="spacingAndGlyphs">/libs/cloudViewer/geometry</text>
<text x="3255" y="155.9" text-anchor="middle" textLength="57.3" lengthAdjust="spacingAndGlyphs">/Image.h</text>
<rect x="3971" y="110" width="200" height="54.7" fill="white" stroke="#000" stroke-width="1.33"/>
<text x="3982.2" y="126.6" textLength="124.4" lengthAdjust="spacingAndGlyphs">/root/ACloudViewer</text>
<text x="3982.2" y="141.3" textLength="177.2" lengthAdjust="spacingAndGlyphs">/libs/cloudViewer/geometry</text>
<text x="4071" y="155.9" text-anchor="middle" textLength="101.7" lengthAdjust="spacingAndGlyphs">/TriangleMesh.h</text>
<rect x="4245.6" y="110" width="200.4" height="54.7" fill="white" stroke="#000" stroke-width="1.33"/>
<text x="4256.8" y="126.6" textLength="124.4" lengthAdjust="spacingAndGlyphs">/root/ACloudViewer</text>
<text x="4256.8" y="141.3" textLength="177.2" lengthAdjust="spacingAndGlyphs">/libs/cloudViewer/geometry</text>
<text x="4345.8" y="155.9" text-anchor="middle" textLength="50.5" lengthAdjust="spacingAndGlyphs">/Qhull.h</text>
<rect x="424" y="214" width="214" height="54.7" fill="white" stroke="#000" stroke-width="1.33"/>
<text x="435.2" y="230.6" textLength="124.4" lengthAdjust="spacingAndGlyphs">/root/ACloudViewer</text>
<text x="435.2" y="245.3" textLength="119.5" lengthAdjust="spacingAndGlyphs">/libs/cloudViewer/t</text>
<text x="531" y="259.9" text-anchor="middle" textLength="193.6" lengthAdjust="spacingAndGlyphs">/geometry/BoundingVolume.h</text>
<rect x="1899" y="214" width="147" height="54.7" fill="white" stroke="#ff0000" stroke-width="1.33"/>
<text x="1910.2" y="230.6" textLength="124.4" lengthAdjust="spacingAndGlyphs">/root/ACloudViewer</text>
<text x="1910.2" y="245.3" textLength="119.5" lengthAdjust="spacingAndGlyphs">/libs/cloudViewer/t</text>
<text x="1972.5" y="259.9" text-anchor="middle" textLength="124.5" lengthAdjust="spacingAndGlyphs">/geometry/Image.h</text>
<rect x="2841.6" y="214" width="200.4" height="54.7" fill="white" stroke="#000" stroke-width="1.33"/>
<text x="2852.8" y="230.6" textLength="124.4" lengthAdjust="spacingAndGlyphs">/root/ACloudViewer</text>
<text x="2852.8" y="245.3" textLength="177.2" lengthAdjust="spacingAndGlyphs">/libs/cloudViewer/geometry</text>
<text x="2941.8" y="259.9" text-anchor="middle" textLength="95.2" lengthAdjust="spacingAndGlyphs">/RGBDImage.h</text>
<rect x="4433.7" y="214" width="200.3" height="54.7" fill="white" stroke="#000" stroke-width="1.33"/>
<text x="4444.9" y="230.6" textLength="124.4" lengthAdjust="spacingAndGlyphs">/root/ACloudViewer</text>
<text x="4444.9" y="245.3" textLength="177.2" lengthAdjust="spacingAndGlyphs">/libs/cloudViewer/geometry</text>
<text x="4533.9" y="259.9" text-anchor="middle" textLength="73.2" lengthAdjust="spacingAndGlyphs">/Keypoint.h</text>
<rect x="404.7" y="318" width="239.3" height="54.7" fill="white" stroke="#000" stroke-width="1.33"/>
<text x="415.9" y="334.6" textLength="124.4" lengthAdjust="spacingAndGlyphs">/root/ACloudViewer</text>
<text x="415.9" y="349.3" textLength="124.4" lengthAdjust="spacingAndGlyphs">/libs/Python/pybind</text>
<text x="524.4" y="363.9" text-anchor="middle" textLength="217.5" lengthAdjust="spacingAndGlyphs">/t/geometry/boundingvolume.cpp</text>
<rect x="859" y="318" width="191" height="54.7" fill="white" stroke="#ff0000" stroke-width="1.33"/>
<text x="870.2" y="334.6" textLength="124.4" lengthAdjust="spacingAndGlyphs">/root/ACloudViewer</text>
<text x="870.2" y="349.3" textLength="119.5" lengthAdjust="spacingAndGlyphs">/libs/cloudViewer/t</text>
<text x="954.5" y="363.9" text-anchor="middle" textLength="168.9" lengthAdjust="spacingAndGlyphs">/geometry/TriangleMesh.h</text>
<rect x="1265.5" y="318" width="200" height="54.7" fill="white" stroke="#000" stroke-width="1.33"/>
<text x="1276.7" y="334.6" textLength="124.4" lengthAdjust="spacingAndGlyphs">/root/ACloudViewer</text>
<text x="1276.7" y="349.3" textLength="177.2" lengthAdjust="spacingAndGlyphs">/libs/cloudViewer/geometry</text>
<text x="1365.5" y="363.9" text-anchor="middle" textLength="85.9" lengthAdjust="spacingAndGlyphs">/PointCloud.h</text>
<rect x="1540" y="318" width="184" height="54.7" fill="white" stroke="#ff0000" stroke-width="1.33"/>
<text x="1551.2" y="334.6" textLength="124.4" lengthAdjust="spacingAndGlyphs">/root/ACloudViewer</text>
<text x="1551.2" y="349.3" textLength="119.5" lengthAdjust="spacingAndGlyphs">/libs/cloudViewer/t</text>
<text x="1632" y="363.9" text-anchor="middle" textLength="162.4" lengthAdjust="spacingAndGlyphs">/geometry/RGBDImage.h</text>
<rect x="1952" y="318" width="161" height="54.7" fill="white" stroke="#000" stroke-width="1.33"/>
<text x="1963.2" y="334.6" textLength="124.4" lengthAdjust="spacingAndGlyphs">/root/ACloudViewer</text>
<text x="1963.2" y="349.3" textLength="119.5" lengthAdjust="spacingAndGlyphs">/libs/cloudViewer/t</text>
<text x="2032.5" y="363.9" text-anchor="middle" textLength="139.8" lengthAdjust="spacingAndGlyphs">/geometry/Image.cpp</text>
<rect x="2137" y="318" width="226" height="54.7" fill="white" stroke="#000" stroke-width="1.33"/>
<text x="2148.2" y="334.6" textLength="124.4" lengthAdjust="spacingAndGlyphs">/root/ACloudViewer</text>
<text x="2148.2" y="349.3" textLength="119.5" lengthAdjust="spacingAndGlyphs">/libs/cloudViewer/t</text>
<text x="2250" y="363.9" text-anchor="middle" textLength="203.6" lengthAdjust="spacingAndGlyphs">/geometry/kernel/IPPImage.cpp</text>
<rect x="2386.5" y="318" width="230.5" height="54.7" fill="white" stroke="#000" stroke-width="1.33"/>
<text x="2397.7" y="334.6" textLength="124.4" lengthAdjust="spacingAndGlyphs">/root/ACloudViewer</text>
<text x="2397.7" y="349.3" textLength="119.5" lengthAdjust="spacingAndGlyphs">/libs/cloudViewer/t</text>
<text x="2501.8" y="363.9" text-anchor="middle" textLength="209.4" lengthAdjust="spacingAndGlyphs">/geometry/kernel/NPPImage.cpp</text>
<rect x="2794" y="318" width="220.6" height="54.7" fill="white" stroke="#000" stroke-width="1.33"/>
<text x="2805.2" y="334.6" textLength="124.4" lengthAdjust="spacingAndGlyphs">/root/ACloudViewer</text>
<text x="2805.2" y="349.3" textLength="195.4" lengthAdjust="spacingAndGlyphs">/libs/cloudViewer/visualization</text>
<text x="2904.3" y="363.9" text-anchor="middle" textLength="110.4" lengthAdjust="spacingAndGlyphs">/gui/UIImage.cpp</text>
<rect x="3409.7" y="318" width="200.3" height="54.7" fill="white" stroke="#000" stroke-width="1.33"/>
<text x="3420.9" y="334.6" textLength="124.4" lengthAdjust="spacingAndGlyphs">/root/ACloudViewer</text>
<text x="3420.9" y="349.3" textLength="177.2" lengthAdjust="spacingAndGlyphs">/libs/cloudViewer/geometry</text>
<text x="3509.8" y="363.9" text-anchor="middle" textLength="65" lengthAdjust="spacingAndGlyphs">/LineSet.h</text>
<rect x="134" y="422" width="239" height="54.7" fill="white" stroke="#000" stroke-width="1.33"/>
<text x="145.2" y="438.6" textLength="124.4" lengthAdjust="spacingAndGlyphs">/root/ACloudViewer</text>
<text x="145.2" y="453.3" textLength="119.5" lengthAdjust="spacingAndGlyphs">/libs/cloudViewer/t</text>
<text x="253.5" y="467.9" text-anchor="middle" textLength="216.2" lengthAdjust="spacingAndGlyphs">/geometry/kernel/MinimumOBB.h</text>
<rect x="702.3" y="422" width="174.7" height="54.7" fill="white" stroke="#ff0000" stroke-width="1.33"/>
<text x="713.5" y="438.6" textLength="124.4" lengthAdjust="spacingAndGlyphs">/root/ACloudViewer</text>
<text x="713.5" y="453.3" textLength="126" lengthAdjust="spacingAndGlyphs">/libs/cloudViewer/io</text>
<text x="789.6" y="467.9" text-anchor="middle" textLength="153.6" lengthAdjust="spacingAndGlyphs">/rpc/RemoteFunctions.h</text>
<rect x="1054.5" y="422" width="174.5" height="54.7" fill="white" stroke="#ff0000" stroke-width="1.33"/>
<text x="1065.7" y="438.6" textLength="124.4" lengthAdjust="spacingAndGlyphs">/root/ACloudViewer</text>
<text x="1065.7" y="453.3" textLength="119.5" lengthAdjust="spacingAndGlyphs">/libs/cloudViewer/t</text>
<text x="1141.8" y="467.9" text-anchor="middle" textLength="153.1" lengthAdjust="spacingAndGlyphs">/geometry/PointCloud.h</text>
<rect x="1304" y="422" width="240" height="54.7" fill="white" stroke="#000" stroke-width="1.33"/>
<text x="1315.2" y="438.6" textLength="124.4" lengthAdjust="spacingAndGlyphs">/root/ACloudViewer</text>
<text x="1315.2" y="453.3" textLength="195.4" lengthAdjust="spacingAndGlyphs">/libs/cloudViewer/visualization</text>
<text x="1424" y="467.9" text-anchor="middle" textLength="215.9" lengthAdjust="spacingAndGlyphs">/visualizer/MessageProcessor.cpp</text>
<rect x="2997" y="422" width="220.5" height="54.7" fill="white" stroke="#000" stroke-width="1.33"/>
<text x="3008.2" y="438.6" textLength="124.4" lengthAdjust="spacingAndGlyphs">/root/ACloudViewer</text>
<text x="3008.2" y="453.3" textLength="195.4" lengthAdjust="spacingAndGlyphs">/libs/cloudViewer/visualization</text>
<text x="3107.2" y="467.9" text-anchor="middle" textLength="181" lengthAdjust="spacingAndGlyphs">/visualizer/GuiVisualizer.cpp</text>
<rect x="3293.3" y="422" width="153.3" height="54.7" fill="white" stroke="#ff0000" stroke-width="1.33"/>
<text x="3304.5" y="438.6" textLength="124.4" lengthAdjust="spacingAndGlyphs">/root/ACloudViewer</text>
<text x="3304.5" y="453.3" textLength="119.5" lengthAdjust="spacingAndGlyphs">/libs/cloudViewer/t</text>
<text x="3369.9" y="467.9" text-anchor="middle" textLength="132.2" lengthAdjust="spacingAndGlyphs">/geometry/LineSet.h</text>
<rect x="3622.8" y="422" width="200.2" height="54.7" fill="white" stroke="#000" stroke-width="1.33"/>
<text x="3634" y="438.6" textLength="124.4" lengthAdjust="spacingAndGlyphs">/root/ACloudViewer</text>
<text x="3634" y="453.3" textLength="177.2" lengthAdjust="spacingAndGlyphs">/libs/cloudViewer/geometry</text>
<text x="3722.9" y="467.9" text-anchor="middle" textLength="60.1" lengthAdjust="spacingAndGlyphs">/Octree.h</text>
<rect x="3921.5" y="422" width="200.5" height="54.7" fill="white" stroke="#000" stroke-width="1.33"/>
<text x="3932.7" y="438.6" textLength="124.4" lengthAdjust="spacingAndGlyphs">/root/ACloudViewer</text>
<text x="3932.7" y="453.3" textLength="177.2" lengthAdjust="spacingAndGlyphs">/libs/cloudViewer/geometry</text>
<text x="4021.8" y="467.9" text-anchor="middle" textLength="78.1" lengthAdjust="spacingAndGlyphs">/VoxelGrid.h</text>
<rect x="5" y="532.7" width="231" height="54.7" fill="white" stroke="#000" stroke-width="1.33"/>
<text x="16.2" y="549.3" textLength="124.4" lengthAdjust="spacingAndGlyphs">/root/ACloudViewer</text>
<text x="16.2" y="564" textLength="119.5" lengthAdjust="spacingAndGlyphs">/libs/cloudViewer/t</text>
<text x="120.5" y="578.6" text-anchor="middle" textLength="209" lengthAdjust="spacingAndGlyphs">/geometry/BoundingVolume.cpp</text>
<rect x="283.5" y="532.7" width="254.8" height="54.7" fill="white" stroke="#000" stroke-width="1.33"/>
<text x="294.7" y="549.3" textLength="124.4" lengthAdjust="spacingAndGlyphs">/root/ACloudViewer</text>
<text x="294.7" y="564" textLength="119.5" lengthAdjust="spacingAndGlyphs">/libs/cloudViewer/t</text>
<text x="410.9" y="578.6" text-anchor="middle" textLength="231.6" lengthAdjust="spacingAndGlyphs">/geometry/kernel/MinimumOBB.cpp</text>
<rect x="777" y="532.7" width="316" height="54.7" fill="white" stroke="#000" stroke-width="1.33"/>
<text x="788.2" y="549.3" textLength="124.4" lengthAdjust="spacingAndGlyphs">/root/ACloudViewer</text>
<text x="788.2" y="564" textLength="195.4" lengthAdjust="spacingAndGlyphs">/libs/cloudViewer/visualization</text>
<text x="935" y="578.6" text-anchor="middle" textLength="295.8" lengthAdjust="spacingAndGlyphs">/rendering/filament/GaussianSplatBuffers.cpp</text>
<rect x="1117.7" y="532.7" width="202.3" height="54.7" fill="white" stroke="#ff0000" stroke-width="1.33"/>
<text x="1128.9" y="549.3" textLength="124.4" lengthAdjust="spacingAndGlyphs">/root/ACloudViewer</text>
<text x="1128.9" y="564" textLength="119.5" lengthAdjust="spacingAndGlyphs">/libs/cloudViewer/t</text>
<text x="1218.8" y="578.6" text-anchor="middle" textLength="180.4" lengthAdjust="spacingAndGlyphs">/geometry/VoxelBlockGrid.h</text>
<rect x="1395" y="525.4" width="200" height="69.3" fill="white" stroke="#000" stroke-width="1.33"/>
<text x="1406.2" y="542" textLength="124.4" lengthAdjust="spacingAndGlyphs">/root/ACloudViewer</text>
<text x="1406.2" y="556.6" textLength="177.2" lengthAdjust="spacingAndGlyphs">/libs/CVViewer/benchmarks</text>
<text x="1406.2" y="571.3" textLength="151.1" lengthAdjust="spacingAndGlyphs">/t/pipelines/registration</text>
<text x="1495" y="586" text-anchor="middle" textLength="81" lengthAdjust="spacingAndGlyphs">/Feature.cpp</text>
<rect x="1720" y="532.7" width="179.4" height="54.7" fill="white" stroke="#ff0000" stroke-width="1.33"/>
<text x="1731.2" y="549.3" textLength="124.4" lengthAdjust="spacingAndGlyphs">/root/ACloudViewer</text>
<text x="1731.2" y="564" textLength="119.5" lengthAdjust="spacingAndGlyphs">/libs/cloudViewer/t</text>
<text x="1809.7" y="578.6" text-anchor="middle" textLength="154.9" lengthAdjust="spacingAndGlyphs">/pipelines/slam/Frame.h</text>
<rect x="2024" y="532.7" width="270.4" height="54.7" fill="white" stroke="#ff0000" stroke-width="1.33"/>
<text x="2035.2" y="549.3" textLength="124.4" lengthAdjust="spacingAndGlyphs">/root/ACloudViewer</text>
<text x="2035.2" y="564" textLength="119.5" lengthAdjust="spacingAndGlyphs">/libs/cloudViewer/t</text>
<text x="2159.2" y="578.6" text-anchor="middle" textLength="247.5" lengthAdjust="spacingAndGlyphs">/pipelines/odometry/RGBDOdometry.h</text>
<rect x="2669.6" y="532.7" width="205.9" height="54.7" fill="white" stroke="#ff0000" stroke-width="1.33"/>
<text x="2680.8" y="549.3" textLength="124.4" lengthAdjust="spacingAndGlyphs">/root/ACloudViewer</text>
<text x="2680.8" y="564" textLength="119.5" lengthAdjust="spacingAndGlyphs">/libs/cloudViewer/t</text>
<text x="2772.6" y="578.6" text-anchor="middle" textLength="183.1" lengthAdjust="spacingAndGlyphs">/pipelines/slac/ControlGrid.h</text>
<rect x="3202.5" y="532.7" width="220.3" height="54.7" fill="white" stroke="#000" stroke-width="1.33"/>
<text x="3213.7" y="549.3" textLength="124.4" lengthAdjust="spacingAndGlyphs">/root/ACloudViewer</text>
<text x="3213.7" y="564" textLength="195.4" lengthAdjust="spacingAndGlyphs">/libs/cloudViewer/visualization</text>
<text x="3312.7" y="578.6" text-anchor="middle" textLength="187.3" lengthAdjust="spacingAndGlyphs">/visualizer/O3DVisualizer.cpp</text>
<rect x="1721" y="644.7" width="177.4" height="54.7" fill="white" stroke="#ff0000" stroke-width="1.33"/>
<text x="1732.2" y="661.3" textLength="124.4" lengthAdjust="spacingAndGlyphs">/root/ACloudViewer</text>
<text x="1732.2" y="676" textLength="119.5" lengthAdjust="spacingAndGlyphs">/libs/cloudViewer/t</text>
<text x="1809.7" y="690.6" text-anchor="middle" textLength="153.4" lengthAdjust="spacingAndGlyphs">/pipelines/slam/Model.h</text>
<rect x="2619" y="644.7" width="147" height="54.7" fill="white" stroke="#ff0000" stroke-width="1.33"/>
<text x="2630.2" y="661.3" textLength="124.4" lengthAdjust="spacingAndGlyphs">/root/ACloudViewer</text>
<text x="2630.2" y="676" textLength="119.5" lengthAdjust="spacingAndGlyphs">/libs/cloudViewer/t</text>
<text x="2692.5" y="690.6" text-anchor="middle" textLength="86.7" lengthAdjust="spacingAndGlyphs">/io/ImageIO.h</text>
<rect x="2915.5" y="644.7" width="214.8" height="54.7" fill="white" stroke="#ff0000" stroke-width="1.33"/>
<text x="2926.7" y="661.3" textLength="124.4" lengthAdjust="spacingAndGlyphs">/root/ACloudViewer</text>
<text x="2926.7" y="676" textLength="119.5" lengthAdjust="spacingAndGlyphs">/libs/cloudViewer/t</text>
<text x="3022.9" y="690.6" text-anchor="middle" textLength="190.9" lengthAdjust="spacingAndGlyphs">/pipelines/slac/Visualization.h</text>
<rect x="4272.3" y="644.7" width="200.5" height="54.7" fill="white" stroke="#000" stroke-width="1.33"/>
<text x="4283.5" y="661.3" textLength="124.4" lengthAdjust="spacingAndGlyphs">/root/ACloudViewer</text>
<text x="4283.5" y="676" textLength="177.2" lengthAdjust="spacingAndGlyphs">/libs/cloudViewer/geometry</text>
<text x="4372.6" y="690.6" text-anchor="middle" textLength="160.2" lengthAdjust="spacingAndGlyphs">/HalfEdgeTriangleMesh.h</text>
<rect x="4570.8" y="644.7" width="200.5" height="54.7" fill="white" stroke="#000" stroke-width="1.33"/>
<text x="4582" y="661.3" textLength="124.4" lengthAdjust="spacingAndGlyphs">/root/ACloudViewer</text>
<text x="4582" y="676" textLength="177.2" lengthAdjust="spacingAndGlyphs">/libs/cloudViewer/geometry</text>
<text x="4671.1" y="690.6" text-anchor="middle" textLength="61.9" lengthAdjust="spacingAndGlyphs">/Line3D.h</text>
<rect x="1561" y="748.7" width="193" height="54.7" fill="white" stroke="#000" stroke-width="1.33"/>
<text x="1572.2" y="765.3" textLength="124.4" lengthAdjust="spacingAndGlyphs">/root/ACloudViewer</text>
<text x="1572.2" y="780" textLength="119.5" lengthAdjust="spacingAndGlyphs">/libs/cloudViewer/t</text>
<text x="1657.5" y="794.6" text-anchor="middle" textLength="168.8" lengthAdjust="spacingAndGlyphs">/pipelines/slam/Model.cpp</text>
<rect x="2737" y="756" width="231" height="40" fill="white" stroke="#000" stroke-width="1.33"/>
<text x="2748.2" y="772.6" textLength="124.4" lengthAdjust="spacingAndGlyphs">/root/ACloudViewer</text>
<text x="2852.5" y="787.3" text-anchor="middle" textLength="206.7" lengthAdjust="spacingAndGlyphs">/libs/cloudViewer/CloudViewer.h</text>
<rect x="2013.5" y="852.7" width="219.5" height="69.3" fill="white" stroke="#000" stroke-width="1.33"/>
<text x="2024.7" y="869.3" textLength="124.4" lengthAdjust="spacingAndGlyphs">/root/ACloudViewer</text>
<text x="2024.7" y="883.9" textLength="128.4" lengthAdjust="spacingAndGlyphs">/libs/CVViewer/apps</text>
<text x="2024.7" y="898.6" textLength="196.2" lengthAdjust="spacingAndGlyphs">/CloudViewerApp/CloudViewer</text>
<text x="2123.2" y="913.3" text-anchor="middle" textLength="53" lengthAdjust="spacingAndGlyphs">App.cpp</text>
<rect x="2256.7" y="860" width="199.8" height="54.7" fill="white" stroke="#000" stroke-width="1.33"/>
<text x="2267.9" y="876.6" textLength="124.4" lengthAdjust="spacingAndGlyphs">/root/ACloudViewer</text>
<text x="2267.9" y="891.3" textLength="177.2" lengthAdjust="spacingAndGlyphs">/libs/CVViewer/benchmarks</text>
<text x="2356.6" y="905.9" text-anchor="middle" textLength="63" lengthAdjust="spacingAndGlyphs">/Main.cpp</text>
<rect x="2480.8" y="860" width="175.2" height="54.7" fill="white" stroke="#000" stroke-width="1.33"/>
<text x="2492" y="876.6" textLength="124.4" lengthAdjust="spacingAndGlyphs">/root/ACloudViewer</text>
<text x="2492" y="891.3" textLength="128.5" lengthAdjust="spacingAndGlyphs">/libs/CVViewer/tools</text>
<text x="2568.4" y="905.9" text-anchor="middle" textLength="152.5" lengthAdjust="spacingAndGlyphs">/ConvertPointCloud.cpp</text>
<rect x="2680.6" y="860" width="151.9" height="54.7" fill="white" stroke="#000" stroke-width="1.33"/>
<text x="2691.8" y="876.6" textLength="124.4" lengthAdjust="spacingAndGlyphs">/root/ACloudViewer</text>
<text x="2691.8" y="891.3" textLength="128.5" lengthAdjust="spacingAndGlyphs">/libs/CVViewer/tools</text>
<text x="2756.6" y="905.9" text-anchor="middle" textLength="73.6" lengthAdjust="spacingAndGlyphs">/GLInfo.cpp</text>
<rect x="2857" y="860" width="183" height="54.7" fill="white" stroke="#000" stroke-width="1.33"/>
<text x="2868.2" y="876.6" textLength="124.4" lengthAdjust="spacingAndGlyphs">/root/ACloudViewer</text>
<text x="2868.2" y="891.3" textLength="128.5" lengthAdjust="spacingAndGlyphs">/libs/CVViewer/tools</text>
<text x="2948.5" y="905.9" text-anchor="middle" textLength="160.8" lengthAdjust="spacingAndGlyphs">/HardwareResources.cpp</text>
<rect x="3063.5" y="860" width="207.2" height="54.7" fill="white" stroke="#000" stroke-width="1.33"/>
<text x="3074.7" y="876.6" textLength="124.4" lengthAdjust="spacingAndGlyphs">/root/ACloudViewer</text>
<text x="3074.7" y="891.3" textLength="128.5" lengthAdjust="spacingAndGlyphs">/libs/CVViewer/tools</text>
<text x="3167.1" y="905.9" text-anchor="middle" textLength="183.5" lengthAdjust="spacingAndGlyphs">/ManuallyCropGeometry.cpp</text>
<rect x="3295" y="860" width="152.4" height="54.7" fill="white" stroke="#000" stroke-width="1.33"/>
<text x="3306.2" y="876.6" textLength="124.4" lengthAdjust="spacingAndGlyphs">/root/ACloudViewer</text>
<text x="3306.2" y="891.3" textLength="128.5" lengthAdjust="spacingAndGlyphs">/libs/CVViewer/tools</text>
<text x="3371.2" y="905.9" text-anchor="middle" textLength="106.6" lengthAdjust="spacingAndGlyphs">/MergeMesh.cpp</text>
<rect x="3471" y="860" width="152" height="54.7" fill="white" stroke="#000" stroke-width="1.33"/>
<text x="3482.2" y="876.6" textLength="124.4" lengthAdjust="spacingAndGlyphs">/root/ACloudViewer</text>
<text x="3482.2" y="891.3" textLength="128.5" lengthAdjust="spacingAndGlyphs">/libs/CVViewer/tools</text>
<text x="3547" y="905.9" text-anchor="middle" textLength="125.6" lengthAdjust="spacingAndGlyphs">/ViewGeometry.cpp</text>
</svg></body></html>
